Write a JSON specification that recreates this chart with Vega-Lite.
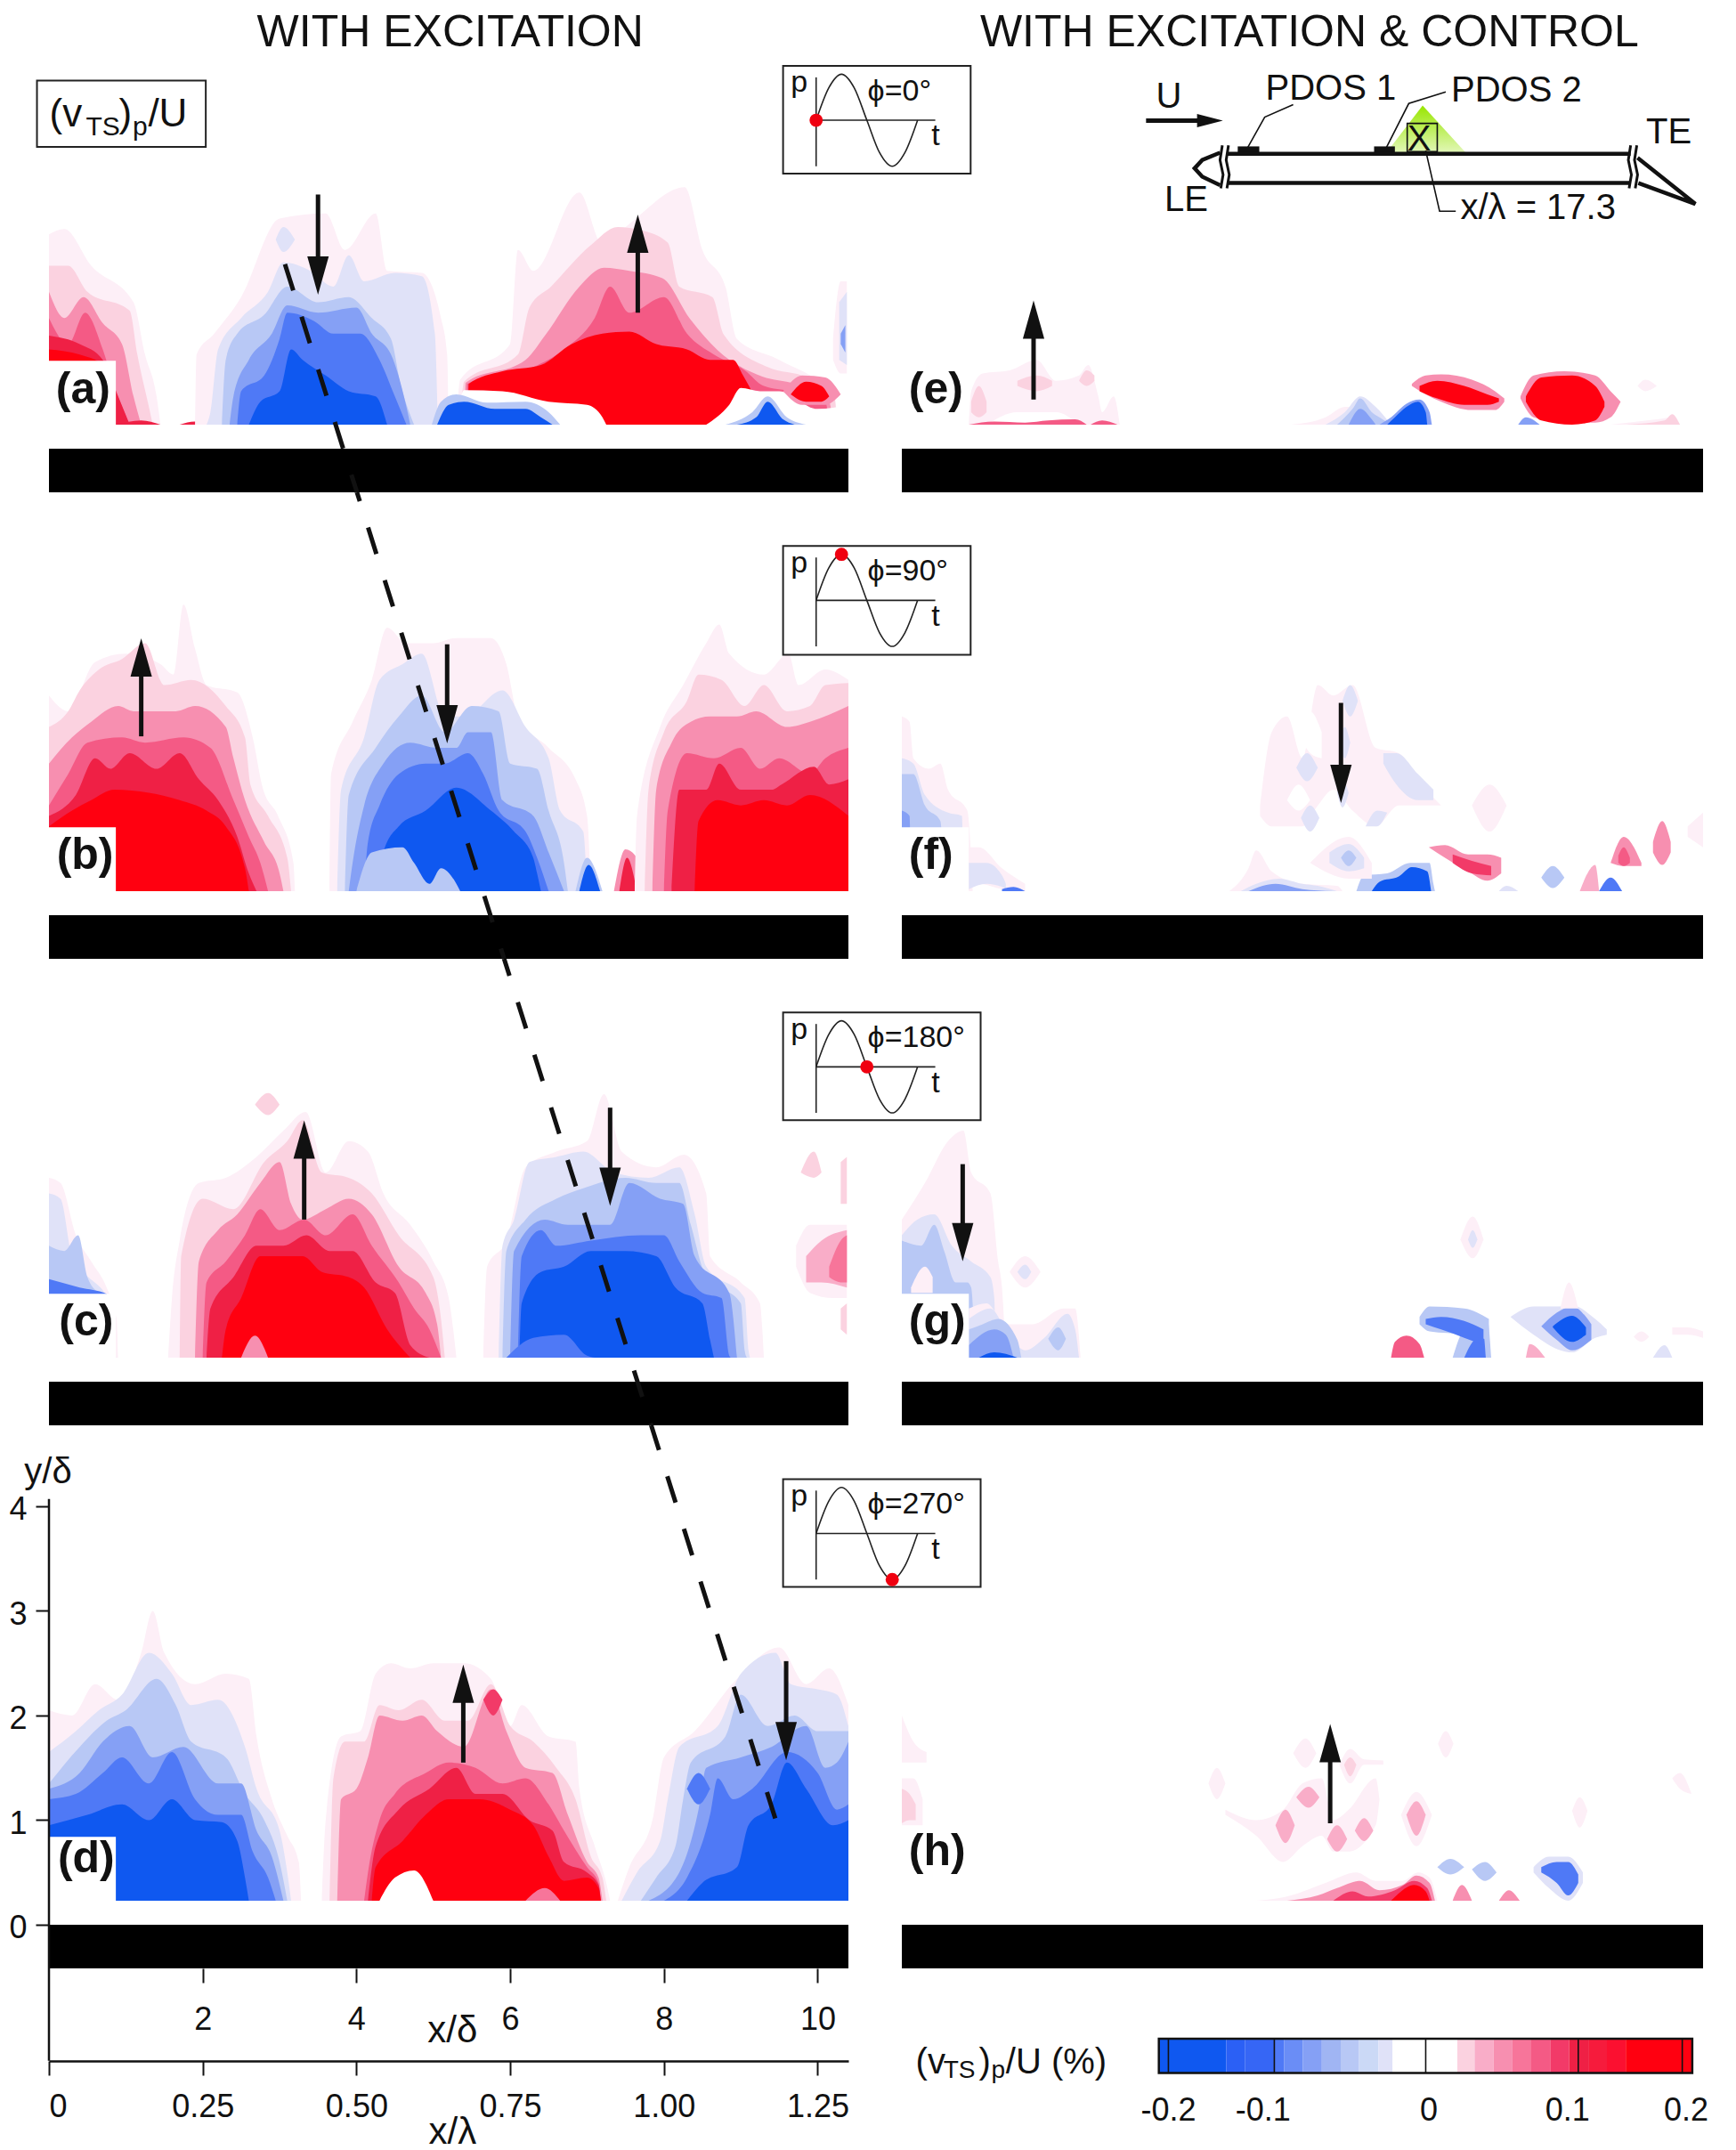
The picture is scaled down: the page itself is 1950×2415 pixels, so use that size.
{"$schema":"https://vega.github.io/schema/vega-lite/v6.json","background":"white","padding":{"left":9,"top":1,"right":0,"bottom":0},"bounds":"flush","columns":2,"align":"each","spacing":{"row":0,"column":60},"resolve":{"scale":{"color":"shared"}},
"config":{"view":{"stroke":null},"legend":{"disable":true},"area":{"interpolate":"monotone","opacity":1},"text":{"font":"Liberation Sans","baseline":"alphabetic","align":"left","color":"#111"},"range":{"category":["#0f58f0","#2b60f5","#3666f5","#4f79f6","#6a8df6","#85a0f5","#a0b5f3","#b8c8f5","#cbd9f6","#e0e2f8","#ffffff","#fdeff7","#fbd2e0","#f9adc8","#f78fb0","#f7759a","#f45a85","#f23a68","#ef2045","#f61b3c","#fb1030","#ff0010"]}},
"datasets":{
"bar":[{"x":0,"x2":10.4,"y":0,"y2":-0.417}],
"box":[{"x":0,"x2":0.87,"y":0.84,"y2":0.2}],
"a":[
{"l":0.5,"x":0,"y":2.05},{"l":0.5,"x":0.2,"y":2.1},{"l":0.5,"x":0.55,"y":1.75},{"l":0.5,"x":1.1,"y":1.4},{"l":0.5,"x":1.25,"y":0.9},{"l":0.5,"x":1.4,"y":0.5},{"l":0.5,"x":1.45,"y":0.23},
{"l":1,"x":0,"y":1.75},{"l":1,"x":0.25,"y":1.75},{"l":1,"x":0.5,"y":1.5},{"l":1,"x":1.05,"y":1.32},{"l":1,"x":1.15,"y":0.9},{"l":1,"x":1.3,"y":0.4},{"l":1,"x":1.35,"y":0.23},
{"l":3,"x":0,"y":1.5},{"l":3,"x":0.2,"y":1.25},{"l":3,"x":0.45,"y":1.45},{"l":3,"x":0.7,"y":1.2},{"l":3,"x":0.95,"y":1.0},{"l":3,"x":1.1,"y":0.5},{"l":3,"x":1.2,"y":0.23},
{"l":5,"x":0,"y":1.25},{"l":5,"x":0.25,"y":1.0},{"l":5,"x":0.47,"y":1.3},{"l":5,"x":0.7,"y":0.95},{"l":5,"x":0.85,"y":0.6},{"l":5,"x":1.05,"y":0.23},
{"l":7,"x":0,"y":1.08},{"l":7,"x":0.4,"y":1.0},{"l":7,"x":0.7,"y":0.85},{"l":7,"x":0.9,"y":0.5},{"l":7,"x":1.05,"y":0.23},
{"l":10,"x":0,"y":0.95},{"l":10,"x":0.4,"y":0.9},{"l":10,"x":0.7,"y":0.8},{"l":10,"x":0.85,"y":0.23},
{"l":7,"g":8,"x":0.87,"y":0.23},{"l":7,"g":8,"x":1.2,"y":0.27},{"l":7,"g":8,"x":1.45,"y":0.23},{"l":7,"g":9,"x":1.7,"y":0.23},{"l":7,"g":9,"x":1.9,"y":0.26},{"l":7,"g":9,"x":2.1,"y":0.23},
{"l":0.5,"g":2,"x":1.9,"y":0.23},{"l":0.5,"g":2,"x":1.92,"y":0.9},{"l":0.5,"g":2,"x":2.15,"y":1.1},{"l":0.5,"g":2,"x":2.5,"y":1.45},{"l":0.5,"g":2,"x":3.0,"y":2.2},{"l":0.5,"g":2,"x":3.6,"y":2.25},{"l":0.5,"g":2,"x":3.85,"y":1.9},{"l":0.5,"g":2,"x":4.25,"y":2.25},{"l":0.5,"g":2,"x":4.4,"y":1.7},{"l":0.5,"g":2,"x":4.85,"y":1.68},{"l":0.5,"g":2,"x":5.1,"y":1.25},{"l":0.5,"g":2,"x":5.18,"y":0.9},{"l":0.5,"g":2,"x":5.2,"y":0.23},
{"l":-1,"x":2.05,"y":0.23},{"l":-1,"x":2.1,"y":0.35},{"l":-1,"x":2.2,"y":0.95},{"l":-1,"x":2.5,"y":1.25},{"l":-1,"x":2.85,"y":1.5},{"l":-1,"x":3.05,"y":1.78},{"l":-1,"x":3.4,"y":1.7},{"l":-1,"x":3.7,"y":1.55},{"l":-1,"x":3.9,"y":1.85},{"l":-1,"x":4.1,"y":1.6},{"l":-1,"x":4.5,"y":1.68},{"l":-1,"x":4.85,"y":1.65},{"l":-1,"x":5.02,"y":1.1},{"l":-1,"x":5.06,"y":0.23},
{"l":-3,"x":2.25,"y":0.23},{"l":-3,"x":2.3,"y":0.85},{"l":-3,"x":2.45,"y":1.1},{"l":-3,"x":2.8,"y":1.28},{"l":-3,"x":3.1,"y":1.55},{"l":-3,"x":3.5,"y":1.4},{"l":-3,"x":3.9,"y":1.45},{"l":-3,"x":4.2,"y":1.25},{"l":-3,"x":4.45,"y":1.05},{"l":-3,"x":4.58,"y":0.6},{"l":-3,"x":4.75,"y":0.23},
{"l":-5,"x":2.35,"y":0.23},{"l":-5,"x":2.4,"y":0.5},{"l":-5,"x":2.6,"y":0.85},{"l":-5,"x":2.9,"y":1.1},{"l":-5,"x":3.1,"y":1.37},{"l":-5,"x":3.5,"y":1.3},{"l":-5,"x":4.0,"y":1.35},{"l":-5,"x":4.2,"y":1.1},{"l":-5,"x":4.45,"y":0.9},{"l":-5,"x":4.65,"y":0.4},{"l":-5,"x":4.7,"y":0.23},
{"l":-7,"x":2.45,"y":0.23},{"l":-7,"x":2.5,"y":0.55},{"l":-7,"x":2.8,"y":0.7},{"l":-7,"x":3.0,"y":1.05},{"l":-7,"x":3.1,"y":1.3},{"l":-7,"x":3.45,"y":1.22},{"l":-7,"x":3.7,"y":1.1},{"l":-7,"x":4.05,"y":1.1},{"l":-7,"x":4.3,"y":0.85},{"l":-7,"x":4.5,"y":0.5},{"l":-7,"x":4.65,"y":0.23},
{"l":-10,"x":2.6,"y":0.23},{"l":-10,"x":2.75,"y":0.45},{"l":-10,"x":3.0,"y":0.55},{"l":-10,"x":3.15,"y":0.95},{"l":-10,"x":3.3,"y":0.85},{"l":-10,"x":3.6,"y":0.7},{"l":-10,"x":3.9,"y":0.55},{"l":-10,"x":4.25,"y":0.5},{"l":-10,"x":4.4,"y":0.23},
{"l":0.5,"g":3,"x":5.3,"y":0.23},{"l":0.5,"g":3,"x":5.35,"y":0.66},{"l":0.5,"g":3,"x":6.0,"y":1.0},{"l":0.5,"g":3,"x":6.1,"y":1.9},{"l":0.5,"g":3,"x":6.3,"y":1.7},{"l":0.5,"g":3,"x":6.9,"y":2.45},{"l":0.5,"g":3,"x":7.2,"y":1.95},{"l":0.5,"g":3,"x":7.55,"y":2.15},{"l":0.5,"g":3,"x":8.27,"y":2.5},{"l":0.5,"g":3,"x":8.5,"y":1.9},{"l":0.5,"g":3,"x":8.8,"y":1.55},{"l":0.5,"g":3,"x":8.95,"y":1.05},{"l":0.5,"g":3,"x":9.5,"y":0.85},{"l":0.5,"g":3,"x":10.2,"y":0.5},{"l":0.5,"g":3,"x":10.28,"y":0.23},
{"l":1,"g":3,"x":5.35,"y":0.23},{"l":1,"g":3,"x":5.4,"y":0.64},{"l":1,"g":3,"x":6.1,"y":0.9},{"l":1,"g":3,"x":6.25,"y":1.35},{"l":1,"g":3,"x":6.53,"y":1.55},{"l":1,"g":3,"x":7.04,"y":1.94},{"l":1,"g":3,"x":7.4,"y":2.12},{"l":1,"g":3,"x":7.7,"y":2.09},{"l":1,"g":3,"x":8.05,"y":1.97},{"l":1,"g":3,"x":8.2,"y":1.55},{"l":1,"g":3,"x":8.63,"y":1.45},{"l":1,"g":3,"x":8.78,"y":1.09},{"l":1,"g":3,"x":9.35,"y":0.78},{"l":1,"g":3,"x":9.86,"y":0.68},{"l":1,"g":3,"x":10.22,"y":0.5},{"l":1,"g":3,"x":10.25,"y":0.23},
{"l":3,"g":3,"x":5.4,"y":0.23},{"l":3,"g":3,"x":5.42,"y":0.63},{"l":3,"g":3,"x":6.2,"y":0.85},{"l":3,"g":3,"x":6.46,"y":1.09},{"l":3,"g":3,"x":6.9,"y":1.55},{"l":3,"g":3,"x":7.22,"y":1.73},{"l":3,"g":3,"x":7.55,"y":1.7},{"l":3,"g":3,"x":7.98,"y":1.63},{"l":3,"g":3,"x":8.34,"y":1.24},{"l":3,"g":3,"x":8.7,"y":0.94},{"l":3,"g":3,"x":9.28,"y":0.69},{"l":3,"g":3,"x":9.7,"y":0.62},{"l":3,"g":3,"x":10.15,"y":0.45},{"l":3,"g":3,"x":10.2,"y":0.23},
{"l":5,"g":3,"x":5.43,"y":0.23},{"l":5,"g":3,"x":5.44,"y":0.62},{"l":5,"g":3,"x":6.3,"y":0.78},{"l":5,"g":3,"x":6.7,"y":0.95},{"l":5,"g":3,"x":7.1,"y":1.25},{"l":5,"g":3,"x":7.3,"y":1.55},{"l":5,"g":3,"x":7.55,"y":1.3},{"l":5,"g":3,"x":8.0,"y":1.45},{"l":5,"g":3,"x":8.3,"y":1.1},{"l":5,"g":3,"x":8.65,"y":0.9},{"l":5,"g":3,"x":9.05,"y":0.75},{"l":5,"g":3,"x":9.3,"y":0.6},{"l":5,"g":3,"x":9.65,"y":0.55},{"l":5,"g":3,"x":10.1,"y":0.45},{"l":5,"g":3,"x":10.15,"y":0.23},
{"l":10,"g":3,"x":5.45,"y":0.23},{"l":10,"g":3,"x":5.46,"y":0.62},{"l":10,"g":3,"x":5.9,"y":0.74},{"l":10,"g":3,"x":6.4,"y":0.8},{"l":10,"g":3,"x":6.8,"y":1.0},{"l":10,"g":3,"x":7.2,"y":1.1},{"l":10,"g":3,"x":7.55,"y":1.12},{"l":10,"g":3,"x":7.9,"y":1.0},{"l":10,"g":3,"x":8.3,"y":0.95},{"l":10,"g":3,"x":8.6,"y":0.85},{"l":10,"g":3,"x":8.9,"y":0.85},{"l":10,"g":3,"x":9.03,"y":0.7},{"l":10,"g":3,"x":9.2,"y":0.45},{"l":10,"g":3,"x":9.3,"y":0.23},
{"l":0,"g":5,"x":5.3,"y":0.23},{"l":0,"g":5,"x":5.4,"y":0.56},{"l":0,"g":5,"x":5.9,"y":0.55},{"l":0,"g":5,"x":6.5,"y":0.45},{"l":0,"g":5,"x":7.0,"y":0.42},{"l":0,"g":5,"x":7.2,"y":0.3},{"l":0,"g":5,"x":7.25,"y":0.23},
{"l":0,"g":6,"x":8.55,"y":0.23},{"l":0,"g":6,"x":8.85,"y":0.42},{"l":0,"g":6,"x":9.0,"y":0.58},{"l":0,"g":6,"x":9.25,"y":0.55},{"l":0,"g":6,"x":9.5,"y":0.55},{"l":0,"g":6,"x":10.0,"y":0.38},{"l":0,"g":6,"x":10.4,"y":0.42},
{"l":-3,"g":7,"x":4.98,"y":0.23},{"l":-3,"g":7,"x":5.1,"y":0.45},{"l":-3,"g":7,"x":5.3,"y":0.52},{"l":-3,"g":7,"x":5.7,"y":0.44},{"l":-3,"g":7,"x":6.2,"y":0.45},{"l":-3,"g":7,"x":6.5,"y":0.35},{"l":-3,"g":7,"x":6.65,"y":0.23},
{"l":-10,"g":7,"x":5.05,"y":0.23},{"l":-10,"g":7,"x":5.2,"y":0.42},{"l":-10,"g":7,"x":5.4,"y":0.45},{"l":-10,"g":7,"x":5.8,"y":0.38},{"l":-10,"g":7,"x":6.2,"y":0.38},{"l":-10,"g":7,"x":6.4,"y":0.3},{"l":-10,"g":7,"x":6.55,"y":0.23},
{"l":-3,"g":8,"x":8.8,"y":0.23},{"l":-3,"g":8,"x":9.15,"y":0.35},{"l":-3,"g":8,"x":9.35,"y":0.5},{"l":-3,"g":8,"x":9.6,"y":0.3},{"l":-3,"g":8,"x":9.85,"y":0.23},
{"l":-10,"g":8,"x":8.95,"y":0.23},{"l":-10,"g":8,"x":9.2,"y":0.3},{"l":-10,"g":8,"x":9.35,"y":0.45},{"l":-10,"g":8,"x":9.55,"y":0.28},{"l":-10,"g":8,"x":9.7,"y":0.23}],
"a2":[
{"l":3,"x":9.55,"y":0.55,"b":0.55},{"l":3,"x":9.8,"y":0.7,"b":0.42},{"l":3,"x":10.1,"y":0.68,"b":0.42},{"l":3,"x":10.3,"y":0.52,"b":0.52},
{"l":10,"x":9.65,"y":0.52,"b":0.52},{"l":10,"x":9.85,"y":0.64,"b":0.45},{"l":10,"x":10.05,"y":0.6,"b":0.45},{"l":10,"x":10.15,"y":0.5,"b":0.5},
{"l":0.5,"x":10.2,"y":1.05,"b":0.85},{"l":0.5,"x":10.3,"y":1.6,"b":0.72},{"l":0.5,"x":10.38,"y":1.6,"b":0.72},
{"l":-1,"x":10.28,"y":1.4,"b":0.85},{"l":-1,"x":10.38,"y":1.5,"b":0.8},
{"l":-5,"x":10.3,"y":1.1,"b":1.0},{"l":-5,"x":10.36,"y":1.18,"b":0.92},
{"l":-1,"g":2,"x":2.95,"y":2.0,"b":2.0},{"l":-1,"g":2,"x":3.05,"y":2.12,"b":1.88},{"l":-1,"g":2,"x":3.2,"y":2.0,"b":2.0}],
"b":[
{"l":0.5,"x":0,"y":2.1},{"l":0.5,"x":0.25,"y":1.95},{"l":0.5,"x":0.6,"y":2.42},{"l":0.5,"x":1.0,"y":2.5},{"l":0.5,"x":1.45,"y":2.4},{"l":0.5,"x":1.62,"y":2.3},{"l":0.5,"x":1.75,"y":2.97},{"l":0.5,"x":1.9,"y":2.55},{"l":0.5,"x":2.05,"y":2.2},{"l":0.5,"x":2.45,"y":2.13},{"l":0.5,"x":2.65,"y":1.7},{"l":0.5,"x":2.78,"y":1.22},{"l":0.5,"x":2.98,"y":0.95},{"l":0.5,"x":3.18,"y":0.5},{"l":0.5,"x":3.2,"y":0.23},
{"l":1,"x":0,"y":1.8},{"l":1,"x":0.25,"y":1.95},{"l":1,"x":0.4,"y":2.15},{"l":1,"x":0.65,"y":2.35},{"l":1,"x":0.95,"y":2.45},{"l":1,"x":1.25,"y":2.6},{"l":1,"x":1.5,"y":2.2},{"l":1,"x":1.85,"y":2.25},{"l":1,"x":2.3,"y":2.0},{"l":1,"x":2.55,"y":1.7},{"l":1,"x":2.62,"y":1.25},{"l":1,"x":2.85,"y":0.95},{"l":1,"x":3.1,"y":0.55},{"l":1,"x":3.15,"y":0.23},
{"l":3,"x":0,"y":1.45},{"l":3,"x":0.3,"y":1.7},{"l":3,"x":0.55,"y":1.85},{"l":3,"x":0.9,"y":2.0},{"l":3,"x":1.1,"y":1.95},{"l":3,"x":1.65,"y":1.95},{"l":3,"x":1.9,"y":2.0},{"l":3,"x":2.3,"y":1.8},{"l":3,"x":2.4,"y":1.5},{"l":3,"x":2.55,"y":1.1},{"l":3,"x":2.8,"y":0.7},{"l":3,"x":3.0,"y":0.4},{"l":3,"x":3.05,"y":0.23},
{"l":5,"x":0,"y":1.05},{"l":5,"x":0.25,"y":1.35},{"l":5,"x":0.5,"y":1.65},{"l":5,"x":0.95,"y":1.7},{"l":5,"x":1.25,"y":1.65},{"l":5,"x":1.75,"y":1.7},{"l":5,"x":2.1,"y":1.6},{"l":5,"x":2.4,"y":1.1},{"l":5,"x":2.6,"y":0.75},{"l":5,"x":2.75,"y":0.5},{"l":5,"x":2.85,"y":0.23},
{"l":7,"x":0,"y":0.95},{"l":7,"x":0.35,"y":1.15},{"l":7,"x":0.6,"y":1.5},{"l":7,"x":0.8,"y":1.4},{"l":7,"x":1.05,"y":1.55},{"l":7,"x":1.4,"y":1.4},{"l":7,"x":1.7,"y":1.55},{"l":7,"x":1.95,"y":1.3},{"l":7,"x":2.2,"y":1.1},{"l":7,"x":2.45,"y":0.75},{"l":7,"x":2.6,"y":0.4},{"l":7,"x":2.7,"y":0.23},
{"l":10,"x":0,"y":0.85},{"l":10,"x":0.3,"y":1.0},{"l":10,"x":0.55,"y":1.1},{"l":10,"x":0.85,"y":1.2},{"l":10,"x":1.3,"y":1.17},{"l":10,"x":1.7,"y":1.1},{"l":10,"x":2.05,"y":1.0},{"l":10,"x":2.3,"y":0.85},{"l":10,"x":2.55,"y":0.45},{"l":10,"x":2.6,"y":0.23},
{"l":0.5,"g":2,"x":3.65,"y":0.23},{"l":0.5,"g":2,"x":3.67,"y":1.35},{"l":0.5,"g":2,"x":3.95,"y":1.85},{"l":0.5,"g":2,"x":4.2,"y":2.25},{"l":0.5,"g":2,"x":4.4,"y":2.75},{"l":0.5,"g":2,"x":4.65,"y":2.6},{"l":0.5,"g":2,"x":5.0,"y":2.6},{"l":0.5,"g":2,"x":5.3,"y":2.65},{"l":0.5,"g":2,"x":5.75,"y":2.65},{"l":0.5,"g":2,"x":5.95,"y":2.4},{"l":0.5,"g":2,"x":6.1,"y":1.9},{"l":0.5,"g":2,"x":6.5,"y":1.6},{"l":0.5,"g":2,"x":6.85,"y":1.3},{"l":0.5,"g":2,"x":7.0,"y":0.95},{"l":0.5,"g":2,"x":7.05,"y":0.23},
{"l":-1,"x":3.75,"y":0.23},{"l":-1,"x":3.8,"y":1.2},{"l":-1,"x":4.1,"y":1.7},{"l":-1,"x":4.3,"y":2.25},{"l":-1,"x":4.6,"y":2.4},{"l":-1,"x":4.85,"y":2.5},{"l":-1,"x":5.15,"y":1.9},{"l":-1,"x":5.4,"y":1.9},{"l":-1,"x":5.9,"y":2.15},{"l":-1,"x":6.2,"y":1.8},{"l":-1,"x":6.5,"y":1.5},{"l":-1,"x":6.65,"y":1.0},{"l":-1,"x":6.95,"y":0.8},{"l":-1,"x":7.0,"y":0.23},
{"l":-3,"x":3.85,"y":0.23},{"l":-3,"x":3.9,"y":1.15},{"l":-3,"x":4.25,"y":1.6},{"l":-3,"x":4.55,"y":1.9},{"l":-3,"x":4.85,"y":2.1},{"l":-3,"x":5.15,"y":1.75},{"l":-3,"x":5.5,"y":2.0},{"l":-3,"x":5.85,"y":1.95},{"l":-3,"x":6.0,"y":1.45},{"l":-3,"x":6.35,"y":1.4},{"l":-3,"x":6.5,"y":1.0},{"l":-3,"x":6.7,"y":0.5},{"l":-3,"x":6.75,"y":0.23},
{"l":-5,"x":3.9,"y":0.23},{"l":-5,"x":3.95,"y":0.5},{"l":-5,"x":4.1,"y":1.05},{"l":-5,"x":4.35,"y":1.45},{"l":-5,"x":4.7,"y":1.65},{"l":-5,"x":5.05,"y":1.6},{"l":-5,"x":5.3,"y":1.6},{"l":-5,"x":5.45,"y":1.75},{"l":-5,"x":5.75,"y":1.75},{"l":-5,"x":5.9,"y":1.1},{"l":-5,"x":6.3,"y":0.95},{"l":-5,"x":6.5,"y":0.6},{"l":-5,"x":6.7,"y":0.23},
{"l":-7,"x":4.1,"y":0.23},{"l":-7,"x":4.15,"y":0.7},{"l":-7,"x":4.3,"y":1.05},{"l":-7,"x":4.55,"y":1.35},{"l":-7,"x":4.9,"y":1.45},{"l":-7,"x":5.15,"y":1.45},{"l":-7,"x":5.45,"y":1.55},{"l":-7,"x":5.65,"y":1.35},{"l":-7,"x":5.85,"y":1.0},{"l":-7,"x":6.2,"y":0.8},{"l":-7,"x":6.35,"y":0.55},{"l":-7,"x":6.5,"y":0.23},
{"l":-10,"x":4.3,"y":0.23},{"l":-10,"x":4.35,"y":0.6},{"l":-10,"x":4.55,"y":0.85},{"l":-10,"x":4.9,"y":1.0},{"l":-10,"x":5.3,"y":1.22},{"l":-10,"x":5.75,"y":1.0},{"l":-10,"x":6.05,"y":0.8},{"l":-10,"x":6.3,"y":0.55},{"l":-10,"x":6.35,"y":0.4},{"l":-10,"x":6.4,"y":0.23},
{"l":-3,"g":3,"x":4.0,"y":0.23},{"l":-3,"g":3,"x":4.2,"y":0.6},{"l":-3,"g":3,"x":4.6,"y":0.65},{"l":-3,"g":3,"x":4.75,"y":0.5},{"l":-3,"g":3,"x":4.95,"y":0.3},{"l":-3,"g":3,"x":5.1,"y":0.45},{"l":-3,"g":3,"x":5.3,"y":0.3},{"l":-3,"g":3,"x":5.35,"y":0.23},
{"l":-3,"g":4,"x":6.85,"y":0.23},{"l":-3,"g":4,"x":7.0,"y":0.55},{"l":-3,"g":4,"x":7.2,"y":0.23},{"l":-10,"g":4,"x":6.9,"y":0.23},{"l":-10,"g":4,"x":7.02,"y":0.48},{"l":-10,"g":4,"x":7.17,"y":0.23},
{"l":3,"g":5,"x":7.35,"y":0.23},{"l":3,"g":5,"x":7.5,"y":0.63},{"l":3,"g":5,"x":7.75,"y":0.4},{"l":3,"g":5,"x":7.78,"y":0.23},{"l":7,"g":5,"x":7.42,"y":0.23},{"l":7,"g":5,"x":7.52,"y":0.55},{"l":7,"g":5,"x":7.65,"y":0.23},
{"l":0.5,"g":6,"x":7.62,"y":0.23},{"l":0.5,"g":6,"x":7.65,"y":0.95},{"l":0.5,"g":6,"x":7.95,"y":1.8},{"l":0.5,"g":6,"x":8.25,"y":2.2},{"l":0.5,"g":6,"x":8.55,"y":2.6},{"l":0.5,"g":6,"x":8.72,"y":2.78},{"l":0.5,"g":6,"x":8.85,"y":2.5},{"l":0.5,"g":6,"x":9.3,"y":2.3},{"l":0.5,"g":6,"x":9.62,"y":2.5},{"l":0.5,"g":6,"x":9.75,"y":2.2},{"l":0.5,"g":6,"x":10.1,"y":2.35},{"l":0.5,"g":6,"x":10.4,"y":2.25},
{"l":1,"g":6,"x":7.75,"y":0.23},{"l":1,"g":6,"x":7.8,"y":1.2},{"l":1,"g":6,"x":8.0,"y":1.75},{"l":1,"g":6,"x":8.3,"y":2.05},{"l":1,"g":6,"x":8.45,"y":2.3},{"l":1,"g":6,"x":8.75,"y":2.25},{"l":1,"g":6,"x":9.05,"y":2.0},{"l":1,"g":6,"x":9.3,"y":2.2},{"l":1,"g":6,"x":9.6,"y":1.95},{"l":1,"g":6,"x":9.9,"y":2.0},{"l":1,"g":6,"x":10.1,"y":2.2},{"l":1,"g":6,"x":10.4,"y":2.22},
{"l":3,"g":6,"x":7.85,"y":0.23},{"l":3,"g":6,"x":7.9,"y":1.2},{"l":3,"g":6,"x":8.1,"y":1.65},{"l":3,"g":6,"x":8.35,"y":1.85},{"l":3,"g":6,"x":8.6,"y":1.9},{"l":3,"g":6,"x":8.95,"y":1.9},{"l":3,"g":6,"x":9.2,"y":1.95},{"l":3,"g":6,"x":9.6,"y":1.8},{"l":3,"g":6,"x":9.9,"y":1.85},{"l":3,"g":6,"x":10.4,"y":2.0},
{"l":5,"g":6,"x":8.0,"y":0.23},{"l":5,"g":6,"x":8.05,"y":1.0},{"l":5,"g":6,"x":8.3,"y":1.55},{"l":5,"g":6,"x":8.65,"y":1.5},{"l":5,"g":6,"x":9.0,"y":1.6},{"l":5,"g":6,"x":9.25,"y":1.4},{"l":5,"g":6,"x":9.5,"y":1.5},{"l":5,"g":6,"x":9.9,"y":1.35},{"l":5,"g":6,"x":10.1,"y":1.5},{"l":5,"g":6,"x":10.4,"y":1.6},
{"l":7,"g":6,"x":8.1,"y":0.23},{"l":7,"g":6,"x":8.2,"y":1.2},{"l":7,"g":6,"x":8.55,"y":1.2},{"l":7,"g":6,"x":8.72,"y":1.45},{"l":7,"g":6,"x":9.0,"y":1.2},{"l":7,"g":6,"x":9.4,"y":1.2},{"l":7,"g":6,"x":9.53,"y":1.25},{"l":7,"g":6,"x":9.95,"y":1.42},{"l":7,"g":6,"x":10.15,"y":1.25},{"l":7,"g":6,"x":10.4,"y":1.3},
{"l":10,"g":6,"x":8.4,"y":0.23},{"l":10,"g":6,"x":8.45,"y":0.9},{"l":10,"g":6,"x":8.7,"y":1.1},{"l":10,"g":6,"x":9.0,"y":1.05},{"l":10,"g":6,"x":9.3,"y":1.1},{"l":10,"g":6,"x":9.6,"y":1.05},{"l":10,"g":6,"x":9.9,"y":1.15},{"l":10,"g":6,"x":10.4,"y":0.95}],
"c":[
{"l":0.5,"x":0,"y":1.95},{"l":0.5,"x":0.15,"y":1.9},{"l":0.5,"x":0.35,"y":1.4},{"l":0.5,"x":0.55,"y":1.15},{"l":0.5,"x":0.75,"y":0.9},{"l":0.5,"x":0.88,"y":0.6},{"l":0.5,"x":0.9,"y":0.23},
{"l":-1,"x":0,"y":1.8},{"l":-1,"x":0.15,"y":1.75},{"l":-1,"x":0.3,"y":1.2},{"l":-1,"x":0.45,"y":1.05},{"l":-1,"x":0.8,"y":0.75},{"l":-1,"x":0.85,"y":0.23},
{"l":-3,"x":0,"y":1.3},{"l":-3,"x":0.2,"y":1.25},{"l":-3,"x":0.38,"y":1.4},{"l":-3,"x":0.5,"y":1.0},{"l":-3,"x":0.8,"y":0.7},{"l":-3,"x":0.87,"y":0.23},
{"l":-7,"x":0,"y":0.98},{"l":-7,"x":0.4,"y":0.9},{"l":-7,"x":0.75,"y":0.84},{"l":-7,"x":0.85,"y":0.23},
{"l":0.5,"g":2,"x":1.55,"y":0.23},{"l":0.5,"g":2,"x":1.6,"y":0.8},{"l":0.5,"g":2,"x":1.7,"y":1.35},{"l":0.5,"g":2,"x":1.95,"y":1.9},{"l":0.5,"g":2,"x":2.3,"y":1.95},{"l":0.5,"g":2,"x":2.7,"y":2.15},{"l":0.5,"g":2,"x":3.05,"y":2.4},{"l":0.5,"g":2,"x":3.34,"y":2.58},{"l":0.5,"g":2,"x":3.6,"y":2.0},{"l":0.5,"g":2,"x":3.9,"y":2.3},{"l":0.5,"g":2,"x":4.15,"y":2.2},{"l":0.5,"g":2,"x":4.35,"y":1.8},{"l":0.5,"g":2,"x":4.7,"y":1.5},{"l":0.5,"g":2,"x":5.0,"y":1.15},{"l":0.5,"g":2,"x":5.2,"y":0.8},{"l":0.5,"g":2,"x":5.3,"y":0.23},
{"l":1,"x":1.7,"y":0.23},{"l":1,"x":1.72,"y":1.2},{"l":1,"x":2.0,"y":1.75},{"l":1,"x":2.4,"y":1.65},{"l":1,"x":2.8,"y":2.1},{"l":1,"x":3.1,"y":2.3},{"l":1,"x":3.3,"y":2.5},{"l":1,"x":3.55,"y":2.0},{"l":1,"x":3.9,"y":1.95},{"l":1,"x":4.2,"y":1.8},{"l":1,"x":4.55,"y":1.4},{"l":1,"x":5.0,"y":1.0},{"l":1,"x":5.1,"y":0.6},{"l":1,"x":5.15,"y":0.23},
{"l":3,"x":1.9,"y":0.23},{"l":3,"x":1.95,"y":1.15},{"l":3,"x":2.2,"y":1.45},{"l":3,"x":2.45,"y":1.6},{"l":3,"x":2.75,"y":1.9},{"l":3,"x":3.0,"y":2.1},{"l":3,"x":3.15,"y":1.7},{"l":3,"x":3.3,"y":1.55},{"l":3,"x":3.6,"y":1.65},{"l":3,"x":3.9,"y":1.75},{"l":3,"x":4.2,"y":1.6},{"l":3,"x":4.55,"y":1.1},{"l":3,"x":4.9,"y":0.85},{"l":3,"x":5.05,"y":0.55},{"l":3,"x":5.1,"y":0.23},
{"l":5,"x":2.0,"y":0.23},{"l":5,"x":2.05,"y":0.95},{"l":5,"x":2.3,"y":1.15},{"l":5,"x":2.55,"y":1.4},{"l":5,"x":2.75,"y":1.65},{"l":5,"x":3.0,"y":1.45},{"l":5,"x":3.32,"y":1.55},{"l":5,"x":3.6,"y":1.4},{"l":5,"x":3.95,"y":1.6},{"l":5,"x":4.2,"y":1.3},{"l":5,"x":4.55,"y":0.95},{"l":5,"x":4.75,"y":0.7},{"l":5,"x":4.95,"y":0.5},{"l":5,"x":5.1,"y":0.23},
{"l":7,"x":2.05,"y":0.23},{"l":7,"x":2.1,"y":0.7},{"l":7,"x":2.4,"y":1.0},{"l":7,"x":2.7,"y":1.3},{"l":7,"x":3.05,"y":1.3},{"l":7,"x":3.35,"y":1.4},{"l":7,"x":3.65,"y":1.25},{"l":7,"x":3.95,"y":1.25},{"l":7,"x":4.25,"y":0.95},{"l":7,"x":4.5,"y":0.85},{"l":7,"x":4.7,"y":0.35},{"l":7,"x":4.95,"y":0.23},
{"l":10,"x":2.25,"y":0.23},{"l":10,"x":2.3,"y":0.5},{"l":10,"x":2.5,"y":0.8},{"l":10,"x":2.75,"y":1.2},{"l":10,"x":3.05,"y":1.2},{"l":10,"x":3.3,"y":1.2},{"l":10,"x":3.55,"y":1.05},{"l":10,"x":3.9,"y":1.0},{"l":10,"x":4.1,"y":0.9},{"l":10,"x":4.4,"y":0.5},{"l":10,"x":4.7,"y":0.23},
{"l":3,"g":2,"x":2.5,"y":0.23},{"l":3,"g":2,"x":2.68,"y":0.44},{"l":3,"g":2,"x":2.85,"y":0.23},
{"l":0.5,"g":3,"x":5.65,"y":0.23},{"l":0.5,"g":3,"x":5.7,"y":1.1},{"l":0.5,"g":3,"x":5.95,"y":1.35},{"l":0.5,"g":3,"x":6.2,"y":2.05},{"l":0.5,"g":3,"x":6.6,"y":2.2},{"l":0.5,"g":3,"x":7.0,"y":2.3},{"l":0.5,"g":3,"x":7.22,"y":2.75},{"l":0.5,"g":3,"x":7.45,"y":2.2},{"l":0.5,"g":3,"x":7.9,"y":2.05},{"l":0.5,"g":3,"x":8.26,"y":2.17},{"l":0.5,"g":3,"x":8.55,"y":1.8},{"l":0.5,"g":3,"x":8.6,"y":1.2},{"l":0.5,"g":3,"x":9.0,"y":0.95},{"l":0.5,"g":3,"x":9.25,"y":0.75},{"l":0.5,"g":3,"x":9.28,"y":0.5},{"l":0.5,"g":3,"x":9.3,"y":0.23},
{"l":-1,"g":3,"x":5.85,"y":0.23},{"l":-1,"g":3,"x":5.9,"y":1.3},{"l":-1,"g":3,"x":6.05,"y":1.55},{"l":-1,"g":3,"x":6.25,"y":2.1},{"l":-1,"g":3,"x":6.6,"y":2.15},{"l":-1,"g":3,"x":6.95,"y":2.2},{"l":-1,"g":3,"x":7.35,"y":2.0},{"l":-1,"g":3,"x":7.8,"y":1.95},{"l":-1,"g":3,"x":8.2,"y":2.05},{"l":-1,"g":3,"x":8.4,"y":1.6},{"l":-1,"g":3,"x":8.55,"y":1.1},{"l":-1,"g":3,"x":9.05,"y":0.8},{"l":-1,"g":3,"x":9.1,"y":0.3},{"l":-1,"g":3,"x":9.12,"y":0.23},
{"l":-3,"g":3,"x":5.9,"y":0.23},{"l":-3,"g":3,"x":5.95,"y":1.25},{"l":-3,"g":3,"x":6.2,"y":1.55},{"l":-3,"g":3,"x":6.6,"y":1.75},{"l":-3,"g":3,"x":6.95,"y":1.85},{"l":-3,"g":3,"x":7.5,"y":1.95},{"l":-3,"g":3,"x":7.9,"y":1.9},{"l":-3,"g":3,"x":8.2,"y":1.9},{"l":-3,"g":3,"x":8.35,"y":1.5},{"l":-3,"g":3,"x":8.55,"y":1.0},{"l":-3,"g":3,"x":9.0,"y":0.75},{"l":-3,"g":3,"x":9.05,"y":0.3},{"l":-3,"g":3,"x":9.08,"y":0.23},
{"l":-5,"x":6.0,"y":0.23},{"l":-5,"x":6.05,"y":1.25},{"l":-5,"x":6.45,"y":1.55},{"l":-5,"x":6.75,"y":1.5},{"l":-5,"x":7.3,"y":1.5},{"l":-5,"x":7.55,"y":1.9},{"l":-5,"x":7.95,"y":1.75},{"l":-5,"x":8.25,"y":1.7},{"l":-5,"x":8.4,"y":1.2},{"l":-5,"x":8.85,"y":0.85},{"l":-5,"x":8.95,"y":0.23},
{"l":-7,"g":3,"x":6.1,"y":0.23},{"l":-7,"g":3,"x":6.15,"y":1.2},{"l":-7,"g":3,"x":6.4,"y":1.45},{"l":-7,"g":3,"x":6.6,"y":1.3},{"l":-7,"g":3,"x":7.05,"y":1.35},{"l":-7,"g":3,"x":7.7,"y":1.4},{"l":-7,"g":3,"x":8.0,"y":1.4},{"l":-7,"g":3,"x":8.2,"y":1.15},{"l":-7,"g":3,"x":8.5,"y":0.85},{"l":-7,"g":3,"x":8.75,"y":0.8},{"l":-7,"g":3,"x":8.85,"y":0.25},{"l":-7,"g":3,"x":8.87,"y":0.23},
{"l":-10,"x":6.12,"y":0.23},{"l":-10,"x":6.15,"y":0.75},{"l":-10,"x":6.4,"y":1.05},{"l":-10,"x":6.7,"y":1.1},{"l":-10,"x":7.05,"y":1.25},{"l":-10,"x":7.5,"y":1.25},{"l":-10,"x":7.9,"y":1.2},{"l":-10,"x":8.15,"y":0.9},{"l":-10,"x":8.5,"y":0.75},{"l":-10,"x":8.6,"y":0.4},{"l":-10,"x":8.65,"y":0.23},
{"l":-7,"g":4,"x":5.95,"y":0.23},{"l":-7,"g":4,"x":6.3,"y":0.42},{"l":-7,"g":4,"x":6.7,"y":0.45},{"l":-7,"g":4,"x":7.0,"y":0.25},{"l":-7,"g":4,"x":7.1,"y":0.23}],
"c2":[
{"l":1,"x":2.68,"y":2.65,"b":2.65},{"l":1,"x":2.85,"y":2.76,"b":2.55},{"l":1,"x":3.0,"y":2.65,"b":2.65},
{"l":0.5,"x":9.72,"y":1.3,"b":1.1},{"l":0.5,"x":9.9,"y":1.5,"b":0.85},{"l":0.5,"x":10.2,"y":1.5,"b":0.8},{"l":0.5,"x":10.38,"y":1.5,"b":0.8},
{"l":2,"x":9.85,"y":1.2,"b":0.95},{"l":2,"x":10.05,"y":1.35,"b":0.95},{"l":2,"x":10.38,"y":1.45,"b":0.9},
{"l":4,"x":10.15,"y":1.1,"b":1.0},{"l":4,"x":10.3,"y":1.35,"b":0.95},{"l":4,"x":10.38,"y":1.4,"b":0.95},
{"l":1,"g":2,"x":9.78,"y":2.0,"b":2.0},{"l":1,"g":2,"x":9.95,"y":2.2,"b":1.95},{"l":1,"g":2,"x":10.05,"y":2.0,"b":2.0},
{"l":1,"g":3,"x":10.3,"y":2.1,"b":1.7},{"l":1,"g":3,"x":10.38,"y":2.15,"b":1.7},
{"l":1,"g":4,"x":10.3,"y":0.7,"b":0.5},{"l":1,"g":4,"x":10.38,"y":0.75,"b":0.45}],
"d":[
{"l":0.5,"x":0,"y":2.05},{"l":0.5,"x":0.3,"y":2.0},{"l":0.5,"x":0.6,"y":2.3},{"l":0.5,"x":0.9,"y":2.15},{"l":0.5,"x":1.2,"y":2.6},{"l":0.5,"x":1.35,"y":3.0},{"l":0.5,"x":1.5,"y":2.6},{"l":0.5,"x":1.9,"y":2.3},{"l":0.5,"x":2.3,"y":2.4},{"l":0.5,"x":2.6,"y":2.35},{"l":0.5,"x":2.7,"y":1.8},{"l":0.5,"x":2.9,"y":1.2},{"l":0.5,"x":3.1,"y":0.85},{"l":0.5,"x":3.25,"y":0.6},{"l":0.5,"x":3.28,"y":0.23},
{"l":-1,"x":0,"y":1.65},{"l":-1,"x":0.35,"y":1.85},{"l":-1,"x":0.65,"y":2.05},{"l":-1,"x":0.95,"y":2.2},{"l":-1,"x":1.3,"y":2.6},{"l":-1,"x":1.6,"y":2.4},{"l":-1,"x":1.85,"y":2.1},{"l":-1,"x":2.2,"y":2.15},{"l":-1,"x":2.55,"y":1.7},{"l":-1,"x":2.7,"y":1.3},{"l":-1,"x":3.0,"y":0.9},{"l":-1,"x":3.1,"y":0.5},{"l":-1,"x":3.15,"y":0.23},
{"l":-3,"x":0,"y":1.35},{"l":-3,"x":0.4,"y":1.7},{"l":-3,"x":0.75,"y":1.95},{"l":-3,"x":1.0,"y":2.05},{"l":-3,"x":1.4,"y":2.35},{"l":-3,"x":1.65,"y":2.1},{"l":-3,"x":1.85,"y":1.75},{"l":-3,"x":2.3,"y":1.6},{"l":-3,"x":2.55,"y":1.25},{"l":-3,"x":2.8,"y":1.0},{"l":-3,"x":3.0,"y":0.6},{"l":-3,"x":3.1,"y":0.23},
{"l":-5,"x":0,"y":1.3},{"l":-5,"x":0.4,"y":1.45},{"l":-5,"x":0.7,"y":1.75},{"l":-5,"x":1.05,"y":1.9},{"l":-5,"x":1.35,"y":1.6},{"l":-5,"x":1.75,"y":1.7},{"l":-5,"x":2.2,"y":1.35},{"l":-5,"x":2.5,"y":1.35},{"l":-5,"x":2.7,"y":0.9},{"l":-5,"x":2.9,"y":0.65},{"l":-5,"x":3.05,"y":0.23},
{"l":-7,"x":0,"y":1.2},{"l":-7,"x":0.35,"y":1.25},{"l":-7,"x":0.7,"y":1.45},{"l":-7,"x":0.95,"y":1.6},{"l":-7,"x":1.3,"y":1.35},{"l":-7,"x":1.6,"y":1.65},{"l":-7,"x":1.9,"y":1.2},{"l":-7,"x":2.2,"y":1.05},{"l":-7,"x":2.5,"y":1.05},{"l":-7,"x":2.65,"y":0.7},{"l":-7,"x":2.85,"y":0.45},{"l":-7,"x":2.95,"y":0.23},
{"l":-10,"x":0,"y":0.95},{"l":-10,"x":0.5,"y":1.05},{"l":-10,"x":0.95,"y":1.15},{"l":-10,"x":1.3,"y":1.0},{"l":-10,"x":1.6,"y":1.2},{"l":-10,"x":1.9,"y":1.0},{"l":-10,"x":2.25,"y":0.98},{"l":-10,"x":2.45,"y":0.8},{"l":-10,"x":2.55,"y":0.45},{"l":-10,"x":2.6,"y":0.23},
{"l":0.5,"g":2,"x":3.55,"y":0.23},{"l":0.5,"g":2,"x":3.6,"y":1.0},{"l":0.5,"g":2,"x":3.8,"y":1.8},{"l":0.5,"g":2,"x":4.05,"y":1.85},{"l":0.5,"g":2,"x":4.25,"y":2.4},{"l":0.5,"g":2,"x":4.45,"y":2.5},{"l":0.5,"g":2,"x":4.7,"y":2.45},{"l":0.5,"g":2,"x":5.0,"y":2.5},{"l":0.5,"g":2,"x":5.4,"y":2.5},{"l":0.5,"g":2,"x":5.75,"y":2.35},{"l":0.5,"g":2,"x":6.0,"y":1.9},{"l":0.5,"g":2,"x":6.15,"y":2.1},{"l":0.5,"g":2,"x":6.5,"y":1.8},{"l":0.5,"g":2,"x":6.85,"y":1.75},{"l":0.5,"g":2,"x":6.9,"y":1.3},{"l":0.5,"g":2,"x":7.1,"y":0.75},{"l":0.5,"g":2,"x":7.25,"y":0.4},{"l":0.5,"g":2,"x":7.3,"y":0.23},
{"l":1,"x":3.65,"y":0.23},{"l":1,"x":3.7,"y":1.4},{"l":1,"x":3.85,"y":1.75},{"l":1,"x":4.1,"y":1.75},{"l":1,"x":4.3,"y":2.1},{"l":1,"x":4.55,"y":2.05},{"l":1,"x":4.85,"y":2.15},{"l":1,"x":5.15,"y":1.95},{"l":1,"x":5.45,"y":1.95},{"l":1,"x":5.75,"y":2.3},{"l":1,"x":6.0,"y":1.9},{"l":1,"x":6.3,"y":1.75},{"l":1,"x":6.6,"y":1.5},{"l":1,"x":6.85,"y":1.2},{"l":1,"x":7.05,"y":0.65},{"l":1,"x":7.2,"y":0.45},{"l":1,"x":7.25,"y":0.23},
{"l":3,"x":3.75,"y":0.23},{"l":3,"x":3.8,"y":1.2},{"l":3,"x":4.0,"y":1.3},{"l":3,"x":4.15,"y":1.6},{"l":3,"x":4.3,"y":2.0},{"l":3,"x":4.6,"y":1.95},{"l":3,"x":4.85,"y":2.0},{"l":3,"x":5.05,"y":1.85},{"l":3,"x":5.4,"y":1.7},{"l":3,"x":5.75,"y":2.25},{"l":3,"x":5.95,"y":1.85},{"l":3,"x":6.2,"y":1.5},{"l":3,"x":6.55,"y":1.45},{"l":3,"x":6.75,"y":1.05},{"l":3,"x":7.0,"y":0.6},{"l":3,"x":7.15,"y":0.45},{"l":3,"x":7.2,"y":0.23},
{"l":5,"x":4.1,"y":0.23},{"l":5,"x":4.15,"y":0.5},{"l":5,"x":4.3,"y":1.0},{"l":5,"x":4.5,"y":1.25},{"l":5,"x":4.9,"y":1.45},{"l":5,"x":5.2,"y":1.55},{"l":5,"x":5.55,"y":1.5},{"l":5,"x":5.9,"y":1.35},{"l":5,"x":6.2,"y":1.4},{"l":5,"x":6.5,"y":1.15},{"l":5,"x":6.7,"y":0.9},{"l":5,"x":7.0,"y":0.55},{"l":5,"x":7.15,"y":0.4},{"l":5,"x":7.18,"y":0.23},
{"l":7,"x":4.15,"y":0.23},{"l":7,"x":4.25,"y":0.75},{"l":7,"x":4.55,"y":1.1},{"l":7,"x":4.95,"y":1.3},{"l":7,"x":5.3,"y":1.5},{"l":7,"x":5.55,"y":1.25},{"l":7,"x":5.9,"y":1.25},{"l":7,"x":6.25,"y":1.0},{"l":7,"x":6.55,"y":0.9},{"l":7,"x":6.7,"y":0.6},{"l":7,"x":7.0,"y":0.5},{"l":7,"x":7.15,"y":0.38},{"l":7,"x":7.18,"y":0.23},
{"l":10,"x":4.2,"y":0.23},{"l":10,"x":4.25,"y":0.55},{"l":10,"x":4.6,"y":0.8},{"l":10,"x":4.9,"y":1.05},{"l":10,"x":5.2,"y":1.2},{"l":10,"x":5.6,"y":1.2},{"l":10,"x":6.0,"y":1.1},{"l":10,"x":6.3,"y":0.95},{"l":10,"x":6.5,"y":0.65},{"l":10,"x":6.7,"y":0.42},{"l":10,"x":7.0,"y":0.45},{"l":10,"x":7.15,"y":0.35},{"l":10,"x":7.18,"y":0.23},
{"l":0,"x":4.3,"y":0.23},{"l":0,"x":4.5,"y":0.45},{"l":0,"x":4.75,"y":0.52},{"l":0,"x":5.0,"y":0.23},
{"l":4,"x":6.2,"y":0.23},{"l":4,"x":6.45,"y":0.35},{"l":4,"x":6.65,"y":0.23},
{"l":0.5,"g":3,"x":7.4,"y":0.23},{"l":0.5,"g":3,"x":7.55,"y":0.55},{"l":0.5,"g":3,"x":7.85,"y":1.0},{"l":0.5,"g":3,"x":8.0,"y":1.6},{"l":0.5,"g":3,"x":8.4,"y":1.85},{"l":0.5,"g":3,"x":8.95,"y":2.35},{"l":0.5,"g":3,"x":9.5,"y":2.65},{"l":0.5,"g":3,"x":9.85,"y":2.3},{"l":0.5,"g":3,"x":10.15,"y":2.45},{"l":0.5,"g":3,"x":10.4,"y":2.1},
{"l":-1,"g":3,"x":7.45,"y":0.23},{"l":-1,"g":3,"x":7.65,"y":0.5},{"l":-1,"g":3,"x":7.95,"y":0.8},{"l":-1,"g":3,"x":8.05,"y":1.2},{"l":-1,"g":3,"x":8.2,"y":1.7},{"l":-1,"g":3,"x":8.7,"y":1.9},{"l":-1,"g":3,"x":9.0,"y":2.4},{"l":-1,"g":3,"x":9.45,"y":2.6},{"l":-1,"g":3,"x":9.65,"y":2.3},{"l":-1,"g":3,"x":10.0,"y":2.25},{"l":-1,"g":3,"x":10.25,"y":2.2},{"l":-1,"g":3,"x":10.4,"y":1.9},
{"l":-3,"g":3,"x":7.7,"y":0.23},{"l":-3,"g":3,"x":7.9,"y":0.45},{"l":-3,"g":3,"x":8.15,"y":0.75},{"l":-3,"g":3,"x":8.25,"y":1.2},{"l":-3,"g":3,"x":8.35,"y":1.55},{"l":-3,"g":3,"x":8.8,"y":1.8},{"l":-3,"g":3,"x":9.0,"y":2.2},{"l":-3,"g":3,"x":9.35,"y":1.9},{"l":-3,"g":3,"x":9.7,"y":2.0},{"l":-3,"g":3,"x":10.0,"y":1.85},{"l":-3,"g":3,"x":10.25,"y":1.85},{"l":-3,"g":3,"x":10.4,"y":1.85},
{"l":-5,"g":3,"x":7.8,"y":0.23},{"l":-5,"g":3,"x":8.2,"y":0.5},{"l":-5,"g":3,"x":8.45,"y":1.1},{"l":-5,"g":3,"x":8.55,"y":1.5},{"l":-5,"g":3,"x":9.0,"y":1.6},{"l":-5,"g":3,"x":9.4,"y":1.7},{"l":-5,"g":3,"x":9.85,"y":1.9},{"l":-5,"g":3,"x":10.1,"y":1.5},{"l":-5,"g":3,"x":10.25,"y":1.55},{"l":-5,"g":3,"x":10.4,"y":1.75},
{"l":-7,"g":3,"x":8.0,"y":0.23},{"l":-7,"g":3,"x":8.3,"y":0.45},{"l":-7,"g":3,"x":8.6,"y":1.05},{"l":-7,"g":3,"x":8.7,"y":1.4},{"l":-7,"g":3,"x":8.9,"y":1.2},{"l":-7,"g":3,"x":9.15,"y":1.3},{"l":-7,"g":3,"x":9.6,"y":1.65},{"l":-7,"g":3,"x":10.0,"y":1.45},{"l":-7,"g":3,"x":10.25,"y":1.1},{"l":-7,"g":3,"x":10.4,"y":1.15},
{"l":-10,"g":3,"x":8.3,"y":0.23},{"l":-10,"g":3,"x":8.5,"y":0.4},{"l":-10,"g":3,"x":8.95,"y":0.55},{"l":-10,"g":3,"x":9.1,"y":0.95},{"l":-10,"g":3,"x":9.4,"y":1.15},{"l":-10,"g":3,"x":9.6,"y":1.55},{"l":-10,"g":3,"x":9.85,"y":1.3},{"l":-10,"g":3,"x":10.2,"y":0.95},{"l":-10,"g":3,"x":10.4,"y":1.0}],
"d2":[
{"l":-7,"x":8.3,"y":1.3,"b":1.3},{"l":-7,"x":8.45,"y":1.45,"b":1.15},{"l":-7,"x":8.6,"y":1.3,"b":1.3},
{"l":6,"x":5.65,"y":2.15,"b":2.15},{"l":6,"x":5.78,"y":2.25,"b":2.0},{"l":6,"x":5.9,"y":2.15,"b":2.15}],
"e":[
{"l":0.5,"x":0.87,"y":0.23},{"l":0.5,"x":0.9,"y":0.55},{"l":0.5,"x":1.05,"y":0.72},{"l":0.5,"x":1.4,"y":0.75},{"l":0.5,"x":1.75,"y":0.85},{"l":0.5,"x":2.0,"y":0.65},{"l":0.5,"x":2.3,"y":0.7},{"l":0.5,"x":2.42,"y":0.8},{"l":0.5,"x":2.55,"y":0.5},{"l":0.5,"x":2.6,"y":0.35},{"l":0.5,"x":2.75,"y":0.5},{"l":0.5,"x":2.83,"y":0.23},
{"l":0,"x":1.1,"y":0.23},{"l":0,"x":1.5,"y":0.35},{"l":0,"x":2.0,"y":0.35},{"l":0,"x":2.3,"y":0.23},
{"l":5,"x":0.87,"y":0.23},{"l":5,"x":1.2,"y":0.26},{"l":5,"x":1.6,"y":0.25},{"l":5,"x":1.9,"y":0.27},{"l":5,"x":2.25,"y":0.28},{"l":5,"x":2.4,"y":0.23},
{"l":5,"g":2,"x":2.45,"y":0.23},{"l":5,"g":2,"x":2.6,"y":0.27},{"l":5,"g":2,"x":2.8,"y":0.23},
{"l":0.5,"g":3,"x":5.05,"y":0.23},{"l":0.5,"g":3,"x":5.5,"y":0.3},{"l":0.5,"g":3,"x":5.75,"y":0.4},{"l":0.5,"g":3,"x":6.0,"y":0.4},{"l":0.5,"g":3,"x":6.2,"y":0.23},
{"l":-1,"x":5.5,"y":0.23},{"l":-1,"x":5.75,"y":0.35},{"l":-1,"x":5.95,"y":0.5},{"l":-1,"x":6.15,"y":0.4},{"l":-1,"x":6.35,"y":0.23},
{"l":-3,"x":5.65,"y":0.23},{"l":-3,"x":5.85,"y":0.38},{"l":-3,"x":5.95,"y":0.48},{"l":-3,"x":6.1,"y":0.35},{"l":-3,"x":6.2,"y":0.3},{"l":-3,"x":6.35,"y":0.23},
{"l":-5,"x":5.8,"y":0.23},{"l":-5,"x":5.95,"y":0.38},{"l":-5,"x":6.1,"y":0.28},{"l":-5,"x":6.15,"y":0.23},
{"l":-5,"g":2,"x":6.2,"y":0.23},{"l":-5,"g":2,"x":6.35,"y":0.3},{"l":-5,"g":2,"x":6.55,"y":0.43},{"l":-5,"g":2,"x":6.72,"y":0.47},{"l":-5,"g":2,"x":6.85,"y":0.35},{"l":-5,"g":2,"x":6.88,"y":0.23},
{"l":-10,"x":6.3,"y":0.23},{"l":-10,"x":6.4,"y":0.3},{"l":-10,"x":6.55,"y":0.4},{"l":-10,"x":6.7,"y":0.45},{"l":-10,"x":6.8,"y":0.35},{"l":-10,"x":6.82,"y":0.23},
{"l":-5,"g":4,"x":8.0,"y":0.23},{"l":-5,"g":4,"x":8.1,"y":0.3},{"l":-5,"g":4,"x":8.28,"y":0.23},
{"l":0.5,"g":5,"x":9.2,"y":0.23},{"l":0.5,"g":5,"x":9.8,"y":0.28},{"l":0.5,"g":5,"x":10.0,"y":0.3},{"l":0.5,"g":5,"x":10.1,"y":0.23},
{"l":1,"g":5,"x":9.4,"y":0.23},{"l":1,"g":5,"x":9.9,"y":0.27},{"l":1,"g":5,"x":10.0,"y":0.33},{"l":1,"g":5,"x":10.1,"y":0.23}],
"e2":[
{"l":1,"x":0.9,"y":0.45,"b":0.35},{"l":1,"x":1.0,"y":0.6,"b":0.3},{"l":1,"x":1.1,"y":0.45,"b":0.35},
{"l":1,"g":2,"x":1.5,"y":0.65,"b":0.6},{"l":1,"g":2,"x":1.75,"y":0.7,"b":0.55},{"l":1,"g":2,"x":1.95,"y":0.65,"b":0.6},
{"l":1,"g":3,"x":2.3,"y":0.65,"b":0.65},{"l":1,"g":3,"x":2.4,"y":0.75,"b":0.6},{"l":1,"g":3,"x":2.5,"y":0.7,"b":0.65},
{"l":3,"x":6.62,"y":0.62,"b":0.6},{"l":3,"x":6.8,"y":0.7,"b":0.52},{"l":3,"x":7.0,"y":0.71,"b":0.45},{"l":3,"x":7.4,"y":0.66,"b":0.37},{"l":3,"x":7.7,"y":0.55,"b":0.37},{"l":3,"x":7.82,"y":0.48,"b":0.45},
{"l":10,"x":6.72,"y":0.6,"b":0.55},{"l":10,"x":6.95,"y":0.65,"b":0.48},{"l":10,"x":7.3,"y":0.6,"b":0.42},{"l":10,"x":7.6,"y":0.52,"b":0.42},{"l":10,"x":7.75,"y":0.48,"b":0.45},
{"l":3,"g":2,"x":8.03,"y":0.5,"b":0.48},{"l":3,"g":2,"x":8.2,"y":0.7,"b":0.3},{"l":3,"g":2,"x":8.6,"y":0.74,"b":0.25},{"l":3,"g":2,"x":9.0,"y":0.7,"b":0.25},{"l":3,"g":2,"x":9.2,"y":0.55,"b":0.3},{"l":3,"g":2,"x":9.33,"y":0.45,"b":0.45},
{"l":10,"g":2,"x":8.1,"y":0.5,"b":0.45},{"l":10,"g":2,"x":8.3,"y":0.68,"b":0.27},{"l":10,"g":2,"x":8.7,"y":0.7,"b":0.23},{"l":10,"g":2,"x":9.0,"y":0.6,"b":0.27},{"l":10,"g":2,"x":9.12,"y":0.45,"b":0.4},
{"l":0.5,"x":9.55,"y":0.6,"b":0.6},{"l":0.5,"x":9.65,"y":0.66,"b":0.55},{"l":0.5,"x":9.8,"y":0.6,"b":0.6}],
"f":[
{"l":0.5,"x":0,"y":1.9},{"l":0.5,"x":0.1,"y":1.85},{"l":0.5,"x":0.15,"y":1.5},{"l":0.5,"x":0.35,"y":1.4},{"l":0.5,"x":0.5,"y":1.45},{"l":0.5,"x":0.6,"y":1.2},{"l":0.5,"x":0.85,"y":1.0},{"l":0.5,"x":0.92,"y":0.23},
{"l":-1,"x":0,"y":1.5},{"l":-1,"x":0.15,"y":1.45},{"l":-1,"x":0.3,"y":1.15},{"l":-1,"x":0.6,"y":0.98},{"l":-1,"x":0.78,"y":0.95},{"l":-1,"x":0.8,"y":0.23},
{"l":-3,"x":0,"y":1.35},{"l":-3,"x":0.15,"y":1.35},{"l":-3,"x":0.3,"y":1.05},{"l":-3,"x":0.5,"y":0.9},{"l":-3,"x":0.55,"y":0.23},
{"l":-5,"x":0,"y":1.0},{"l":-5,"x":0.1,"y":0.95},{"l":-5,"x":0.12,"y":0.23},
{"l":0.5,"g":2,"x":4.25,"y":0.23},{"l":0.5,"g":2,"x":4.5,"y":0.45},{"l":0.5,"g":2,"x":4.6,"y":0.62},{"l":0.5,"g":2,"x":4.8,"y":0.42},{"l":0.5,"g":2,"x":5.2,"y":0.3},{"l":0.5,"g":2,"x":5.65,"y":0.28},{"l":0.5,"g":2,"x":5.72,"y":0.23},
{"l":-1,"g":2,"x":4.4,"y":0.23},{"l":-1,"g":2,"x":4.6,"y":0.3},{"l":-1,"g":2,"x":4.9,"y":0.35},{"l":-1,"g":2,"x":5.2,"y":0.3},{"l":-1,"g":2,"x":5.4,"y":0.28},{"l":-1,"g":2,"x":5.65,"y":0.23},
{"l":-5,"g":2,"x":4.5,"y":0.23},{"l":-5,"g":2,"x":4.85,"y":0.3},{"l":-5,"g":2,"x":5.2,"y":0.25},{"l":-5,"g":2,"x":5.6,"y":0.23},
{"l":-3,"g":2,"x":5.9,"y":0.23},{"l":-3,"g":2,"x":6.0,"y":0.38},{"l":-3,"g":2,"x":6.3,"y":0.4},{"l":-3,"g":2,"x":6.6,"y":0.5},{"l":-3,"g":2,"x":6.85,"y":0.5},{"l":-3,"g":2,"x":6.9,"y":0.3},{"l":-3,"g":2,"x":6.92,"y":0.23},
{"l":-10,"x":6.1,"y":0.23},{"l":-10,"x":6.2,"y":0.32},{"l":-10,"x":6.45,"y":0.37},{"l":-10,"x":6.62,"y":0.46},{"l":-10,"x":6.82,"y":0.42},{"l":-10,"x":6.87,"y":0.23},
{"l":-1,"g":3,"x":7.75,"y":0.23},{"l":-1,"g":3,"x":7.85,"y":0.28},{"l":-1,"g":3,"x":8.0,"y":0.23},
{"l":2,"x":8.8,"y":0.23},{"l":2,"x":8.9,"y":0.4},{"l":2,"x":9.0,"y":0.48},{"l":2,"x":9.05,"y":0.23},
{"l":-7,"x":9.05,"y":0.23},{"l":-7,"x":9.2,"y":0.36},{"l":-7,"x":9.35,"y":0.23}],
"f2":[
{"l":0.5,"x":0.87,"y":0.65,"b":0.23},{"l":0.5,"x":1.0,"y":0.65,"b":0.3},{"l":0.5,"x":1.3,"y":0.45,"b":0.25},{"l":0.5,"x":1.6,"y":0.3,"b":0.23},
{"l":-1,"x":0.87,"y":0.5,"b":0.25},{"l":-1,"x":1.1,"y":0.5,"b":0.3},{"l":-1,"x":1.3,"y":0.38,"b":0.27},{"l":-1,"x":1.35,"y":0.3,"b":0.25},
{"l":-7,"x":1.3,"y":0.25,"b":0.23},{"l":-7,"x":1.45,"y":0.27,"b":0.23},{"l":-7,"x":1.6,"y":0.23,"b":0.23},
{"l":0.5,"g":2,"x":4.65,"y":1.05,"b":0.95},{"l":0.5,"g":2,"x":4.8,"y":1.75,"b":0.85},{"l":0.5,"g":2,"x":5.0,"y":1.9,"b":0.85},{"l":0.5,"g":2,"x":5.2,"y":1.5,"b":0.85},{"l":0.5,"g":2,"x":5.4,"y":2.2,"b":1.05},{"l":0.5,"g":2,"x":5.6,"y":2.1,"b":1.2},{"l":0.5,"g":2,"x":5.85,"y":2.2,"b":1.0},{"l":0.5,"g":2,"x":6.15,"y":1.6,"b":0.85},{"l":0.5,"g":2,"x":6.45,"y":1.55,"b":1.05},{"l":0.5,"g":2,"x":6.75,"y":1.25,"b":1.05},{"l":0.5,"g":2,"x":7.0,"y":1.05,"b":1.05},
{"l":0,"x":5.0,"y":1.1,"b":1.1},{"l":0,"x":5.15,"y":1.25,"b":1.0},{"l":0,"x":5.3,"y":1.1,"b":1.1},
{"l":0,"g":2,"x":5.15,"y":1.85,"b":1.75},{"l":0,"g":2,"x":5.3,"y":1.95,"b":1.55},{"l":0,"g":2,"x":5.45,"y":1.75,"b":1.5},
{"l":-1,"g":3,"x":5.12,"y":1.41,"b":1.41},{"l":-1,"g":3,"x":5.26,"y":1.55,"b":1.28},{"l":-1,"g":3,"x":5.4,"y":1.41,"b":1.41},
{"l":-1,"g":4,"x":5.72,"y":2.05,"b":2.05},{"l":-1,"g":4,"x":5.82,"y":2.2,"b":1.9},{"l":-1,"g":4,"x":5.92,"y":2.05,"b":2.05},
{"l":-1,"g":5,"x":6.25,"y":1.55,"b":1.45},{"l":-1,"g":5,"x":6.42,"y":1.55,"b":1.25},{"l":-1,"g":5,"x":6.7,"y":1.35,"b":1.1},{"l":-1,"g":5,"x":6.9,"y":1.2,"b":1.1},
{"l":-1,"g":6,"x":7.48,"y":1.05,"b":1.05},{"l":-1,"g":6,"x":7.63,"y":1.2,"b":0.85},{"l":-1,"g":6,"x":7.78,"y":1.05,"b":1.05},
{"l":-3,"g":6,"x":7.56,"y":1.05,"b":1.05},{"l":-3,"g":6,"x":7.63,"y":1.12,"b":0.95},{"l":-3,"g":6,"x":7.7,"y":1.05,"b":1.05},
{"l":-1,"g":7,"x":5.18,"y":0.93,"b":0.93},{"l":-1,"g":7,"x":5.3,"y":1.05,"b":0.8},{"l":-1,"g":7,"x":5.42,"y":0.93,"b":0.93},
{"l":-1,"g":8,"x":6.02,"y":0.85,"b":0.85},{"l":-1,"g":8,"x":6.17,"y":1.0,"b":0.85},{"l":-1,"g":8,"x":6.3,"y":0.98,"b":0.98},
{"l":-1,"g":9,"x":5.68,"y":1.65,"b":1.65},{"l":-1,"g":9,"x":5.75,"y":1.8,"b":1.5},{"l":-1,"g":9,"x":5.82,"y":1.65,"b":1.65},
{"l":-1,"g":10,"x":5.65,"y":1.17,"b":1.17},{"l":-1,"g":10,"x":5.72,"y":1.3,"b":1.03},{"l":-1,"g":10,"x":5.8,"y":1.17,"b":1.17},
{"l":0.5,"g":11,"x":7.4,"y":1.05,"b":1.05},{"l":0.5,"g":11,"x":7.63,"y":1.25,"b":0.8},{"l":0.5,"g":11,"x":7.85,"y":1.05,"b":1.05},
{"l":0.5,"g":12,"x":5.3,"y":0.5,"b":0.5},{"l":0.5,"g":12,"x":5.8,"y":0.75,"b":0.35},{"l":0.5,"g":12,"x":6.1,"y":0.5,"b":0.35},
{"l":-1,"g":12,"x":5.55,"y":0.6,"b":0.5},{"l":-1,"g":12,"x":5.8,"y":0.68,"b":0.42},{"l":-1,"g":12,"x":6.0,"y":0.55,"b":0.45},
{"l":-3,"x":5.7,"y":0.55,"b":0.55},{"l":-3,"x":5.8,"y":0.62,"b":0.47},{"l":-3,"x":5.9,"y":0.55,"b":0.55},
{"l":3,"x":6.84,"y":0.65,"b":0.65},{"l":3,"x":7.05,"y":0.67,"b":0.55},{"l":3,"x":7.35,"y":0.58,"b":0.42},{"l":3,"x":7.6,"y":0.58,"b":0.33},{"l":3,"x":7.78,"y":0.55,"b":0.4},
{"l":6,"x":7.15,"y":0.58,"b":0.5},{"l":6,"x":7.4,"y":0.52,"b":0.4},{"l":6,"x":7.65,"y":0.47,"b":0.38},
{"l":-3,"g":2,"x":8.3,"y":0.36,"b":0.36},{"l":-3,"g":2,"x":8.45,"y":0.47,"b":0.26},{"l":-3,"g":2,"x":8.6,"y":0.36,"b":0.36},
{"l":3,"g":2,"x":9.2,"y":0.5,"b":0.5},{"l":3,"g":2,"x":9.37,"y":0.75,"b":0.47},{"l":3,"g":2,"x":9.6,"y":0.5,"b":0.47},
{"l":5,"x":9.3,"y":0.57,"b":0.5},{"l":5,"x":9.37,"y":0.65,"b":0.47},{"l":5,"x":9.45,"y":0.55,"b":0.5},
{"l":3,"g":3,"x":9.75,"y":0.7,"b":0.6},{"l":3,"g":3,"x":9.87,"y":0.9,"b":0.48},{"l":3,"g":3,"x":9.98,"y":0.7,"b":0.6},
{"l":0.5,"g":13,"x":10.2,"y":0.85,"b":0.75},{"l":0.5,"g":13,"x":10.4,"y":0.98,"b":0.65}],
"g":[
{"l":0.5,"x":0,"y":1.55},{"l":0.5,"x":0.3,"y":1.9},{"l":0.5,"x":0.6,"y":2.3},{"l":0.5,"x":0.8,"y":2.4},{"l":0.5,"x":0.9,"y":2.0},{"l":0.5,"x":1.15,"y":1.8},{"l":0.5,"x":1.25,"y":1.15},{"l":0.5,"x":1.3,"y":0.9},{"l":0.5,"x":1.35,"y":0.23},
{"l":-1,"x":0,"y":1.4},{"l":-1,"x":0.2,"y":1.55},{"l":-1,"x":0.42,"y":1.6},{"l":-1,"x":0.65,"y":1.3},{"l":-1,"x":0.9,"y":1.15},{"l":-1,"x":1.15,"y":1.0},{"l":-1,"x":1.2,"y":0.8},{"l":-1,"x":1.22,"y":0.23},
{"l":-3,"x":0,"y":1.35},{"l":-3,"x":0.25,"y":1.3},{"l":-3,"x":0.42,"y":1.5},{"l":-3,"x":0.55,"y":1.25},{"l":-3,"x":0.7,"y":0.95},{"l":-3,"x":0.85,"y":0.95},{"l":-3,"x":0.9,"y":0.9},{"l":-3,"x":0.95,"y":0.23},
{"l":0.5,"g":2,"x":0.87,"y":0.7},{"l":0.5,"g":2,"x":1.1,"y":0.75},{"l":0.5,"g":2,"x":1.35,"y":0.55},{"l":0.5,"g":2,"x":1.7,"y":0.55},{"l":0.5,"g":2,"x":2.1,"y":0.7},{"l":0.5,"g":2,"x":2.25,"y":0.7},{"l":0.5,"g":2,"x":2.32,"y":0.23},
{"l":-1,"g":2,"x":0.87,"y":0.6},{"l":-1,"g":2,"x":1.15,"y":0.7},{"l":-1,"g":2,"x":1.35,"y":0.5},{"l":-1,"g":2,"x":1.6,"y":0.3},{"l":-1,"g":2,"x":1.85,"y":0.42},{"l":-1,"g":2,"x":2.15,"y":0.65},{"l":-1,"g":2,"x":2.25,"y":0.5},{"l":-1,"g":2,"x":2.3,"y":0.23},
{"l":-3,"g":2,"x":0.87,"y":0.5},{"l":-3,"g":2,"x":1.05,"y":0.55},{"l":-3,"g":2,"x":1.25,"y":0.6},{"l":-3,"g":2,"x":1.5,"y":0.4},{"l":-3,"g":2,"x":1.55,"y":0.23},
{"l":-5,"x":0.87,"y":0.35},{"l":-5,"x":1.2,"y":0.5},{"l":-5,"x":1.35,"y":0.45},{"l":-5,"x":1.45,"y":0.23},
{"l":-10,"x":1.0,"y":0.23},{"l":-10,"x":1.2,"y":0.28},{"l":-10,"x":1.5,"y":0.23},
{"l":-3,"g":3,"x":7.15,"y":0.23},{"l":-3,"g":3,"x":7.3,"y":0.5},{"l":-3,"g":3,"x":7.6,"y":0.6},{"l":-3,"g":3,"x":7.65,"y":0.23},
{"l":-7,"x":7.3,"y":0.23},{"l":-7,"x":7.38,"y":0.35},{"l":-7,"x":7.55,"y":0.45},{"l":-7,"x":7.58,"y":0.23},
{"l":5,"x":6.35,"y":0.23},{"l":5,"x":6.4,"y":0.38},{"l":5,"x":6.55,"y":0.44},{"l":5,"x":6.72,"y":0.36},{"l":5,"x":6.78,"y":0.23},
{"l":2,"x":8.1,"y":0.23},{"l":2,"x":8.15,"y":0.36},{"l":2,"x":8.35,"y":0.23},
{"l":-1,"g":4,"x":9.75,"y":0.23},{"l":-1,"g":4,"x":9.9,"y":0.35},{"l":-1,"g":4,"x":10.0,"y":0.23}],
"g2":[
{"l":0.5,"x":0.12,"y":0.9,"b":0.85},{"l":0.5,"x":0.3,"y":1.1,"b":0.85},{"l":0.5,"x":0.4,"y":1.0,"b":0.85},
{"l":0.5,"g":2,"x":1.4,"y":1.05,"b":1.05},{"l":0.5,"g":2,"x":1.6,"y":1.2,"b":0.9},{"l":0.5,"g":2,"x":1.8,"y":1.05,"b":1.05},
{"l":-1,"x":1.5,"y":1.05,"b":1.05},{"l":-1,"x":1.6,"y":1.12,"b":0.98},{"l":-1,"x":1.68,"y":1.05,"b":1.05},
{"l":-3,"x":1.9,"y":0.41,"b":0.41},{"l":-3,"x":2.03,"y":0.52,"b":0.3},{"l":-3,"x":2.13,"y":0.41,"b":0.41},
{"l":-3,"g":2,"x":6.72,"y":0.62,"b":0.55},{"l":-3,"g":2,"x":6.85,"y":0.72,"b":0.48},{"l":-3,"g":2,"x":7.3,"y":0.7,"b":0.45},{"l":-3,"g":2,"x":7.62,"y":0.6,"b":0.4},
{"l":-7,"x":6.8,"y":0.6,"b":0.55},{"l":-7,"x":7.0,"y":0.62,"b":0.5},{"l":-7,"x":7.3,"y":0.58,"b":0.42},{"l":-7,"x":7.55,"y":0.5,"b":0.35},
{"l":-1,"g":2,"x":7.9,"y":0.62,"b":0.62},{"l":-1,"g":2,"x":8.2,"y":0.72,"b":0.45},{"l":-1,"g":2,"x":8.55,"y":0.72,"b":0.3},{"l":-1,"g":2,"x":8.7,"y":0.73,"b":0.28},{"l":-1,"g":2,"x":9.0,"y":0.6,"b":0.42},{"l":-1,"g":2,"x":9.15,"y":0.5,"b":0.45},
{"l":-5,"x":8.3,"y":0.53,"b":0.53},{"l":-5,"x":8.5,"y":0.66,"b":0.4},{"l":-5,"x":8.7,"y":0.72,"b":0.3},{"l":-5,"x":8.95,"y":0.55,"b":0.4},
{"l":-10,"x":8.45,"y":0.53,"b":0.52},{"l":-10,"x":8.7,"y":0.63,"b":0.38},{"l":-10,"x":8.88,"y":0.52,"b":0.45},
{"l":0.5,"g":3,"x":8.55,"y":0.7,"b":0.7},{"l":0.5,"g":3,"x":8.66,"y":0.95,"b":0.7},{"l":0.5,"g":3,"x":8.78,"y":0.7,"b":0.7},
{"l":0.5,"g":4,"x":7.25,"y":1.36,"b":1.36},{"l":0.5,"g":4,"x":7.41,"y":1.58,"b":1.18},{"l":0.5,"g":4,"x":7.55,"y":1.36,"b":1.36},
{"l":-1,"g":4,"x":7.35,"y":1.36,"b":1.36},{"l":-1,"g":4,"x":7.41,"y":1.45,"b":1.28},{"l":-1,"g":4,"x":7.47,"y":1.36,"b":1.36},
{"l":0.5,"g":5,"x":9.5,"y":0.43,"b":0.43},{"l":0.5,"g":5,"x":9.6,"y":0.48,"b":0.38},{"l":0.5,"g":5,"x":9.7,"y":0.43,"b":0.43},
{"l":0.5,"g":6,"x":10.0,"y":0.52,"b":0.45},{"l":0.5,"g":6,"x":10.2,"y":0.52,"b":0.45},{"l":0.5,"g":6,"x":10.4,"y":0.48,"b":0.42}],
"h":[
{"l":0.5,"x":4.6,"y":0.23},{"l":0.5,"x":5.0,"y":0.27},{"l":0.5,"x":5.5,"y":0.4},{"l":0.5,"x":5.9,"y":0.5},{"l":0.5,"x":6.15,"y":0.42},{"l":0.5,"x":6.5,"y":0.42},{"l":0.5,"x":6.7,"y":0.5},{"l":0.5,"x":6.85,"y":0.45},{"l":0.5,"x":6.95,"y":0.23},
{"l":3,"x":5.0,"y":0.23},{"l":3,"x":5.4,"y":0.28},{"l":3,"x":5.65,"y":0.35},{"l":3,"x":5.95,"y":0.42},{"l":3,"x":6.2,"y":0.33},{"l":3,"x":6.5,"y":0.38},{"l":3,"x":6.68,"y":0.47},{"l":3,"x":6.85,"y":0.4},{"l":3,"x":6.92,"y":0.23},
{"l":6,"x":5.6,"y":0.23},{"l":6,"x":5.85,"y":0.32},{"l":6,"x":6.05,"y":0.27},{"l":6,"x":6.4,"y":0.33},{"l":6,"x":6.65,"y":0.42},{"l":6,"x":6.82,"y":0.35},{"l":6,"x":6.88,"y":0.23},
{"l":10,"x":6.35,"y":0.23},{"l":10,"x":6.45,"y":0.3},{"l":10,"x":6.65,"y":0.38},{"l":10,"x":6.8,"y":0.32},{"l":10,"x":6.85,"y":0.23},
{"l":3,"g":2,"x":7.15,"y":0.23},{"l":3,"g":2,"x":7.27,"y":0.38},{"l":3,"g":2,"x":7.4,"y":0.23},
{"l":3,"g":3,"x":7.75,"y":0.23},{"l":3,"g":3,"x":7.88,"y":0.33},{"l":3,"g":3,"x":8.02,"y":0.23}],
"h2":[
{"l":0.5,"x":0,"y":2.0,"b":1.55},{"l":0.5,"x":0.15,"y":1.75,"b":1.55},{"l":0.5,"x":0.32,"y":1.65,"b":1.55},
{"l":0.5,"g":2,"x":0,"y":1.4,"b":0.95},{"l":0.5,"g":2,"x":0.15,"y":1.4,"b":0.95},{"l":0.5,"g":2,"x":0.27,"y":1.2,"b":0.95},
{"l":1,"x":0,"y":1.3,"b":0.97},{"l":1,"x":0.1,"y":1.25,"b":1.0},{"l":1,"x":0.18,"y":1.15,"b":1.0},
{"l":0.5,"g":3,"x":4.2,"y":1.1,"b":1.05},{"l":0.5,"g":3,"x":4.6,"y":1.0,"b":0.85},{"l":0.5,"g":3,"x":4.95,"y":1.1,"b":0.6},{"l":0.5,"g":3,"x":5.2,"y":1.35,"b":0.75},{"l":0.5,"g":3,"x":5.45,"y":1.4,"b":0.85},{"l":0.5,"g":3,"x":5.6,"y":1.0,"b":0.7},{"l":0.5,"g":3,"x":5.8,"y":1.1,"b":0.7},{"l":0.5,"g":3,"x":6.15,"y":1.4,"b":0.95},{"l":0.5,"g":3,"x":6.2,"y":1.2,"b":1.2},
{"l":2,"g":4,"x":4.85,"y":0.95,"b":0.95},{"l":2,"g":4,"x":4.98,"y":1.1,"b":0.78},{"l":2,"g":4,"x":5.1,"y":0.95,"b":0.95},
{"l":2,"g":5,"x":5.12,"y":1.22,"b":1.22},{"l":2,"g":5,"x":5.28,"y":1.32,"b":1.12},{"l":2,"g":5,"x":5.42,"y":1.22,"b":1.22},
{"l":2,"g":6,"x":5.52,"y":0.82,"b":0.82},{"l":2,"g":6,"x":5.65,"y":0.95,"b":0.7},{"l":2,"g":6,"x":5.78,"y":0.82,"b":0.82},
{"l":2,"g":7,"x":5.88,"y":0.9,"b":0.9},{"l":2,"g":7,"x":6.0,"y":1.02,"b":0.8},{"l":2,"g":7,"x":6.12,"y":0.9,"b":0.9},
{"l":0.5,"g":8,"x":5.68,"y":1.53,"b":1.53},{"l":0.5,"g":8,"x":5.82,"y":1.68,"b":1.35},{"l":0.5,"g":8,"x":6.0,"y":1.58,"b":1.53},{"l":0.5,"g":8,"x":6.25,"y":1.57,"b":1.53},
{"l":1,"g":8,"x":5.74,"y":1.53,"b":1.53},{"l":1,"g":8,"x":5.82,"y":1.6,"b":1.42},{"l":1,"g":8,"x":5.9,"y":1.53,"b":1.53},
{"l":0.5,"g":9,"x":5.08,"y":1.64,"b":1.64},{"l":0.5,"g":9,"x":5.24,"y":1.78,"b":1.5},{"l":0.5,"g":9,"x":5.38,"y":1.64,"b":1.64},
{"l":0.5,"g":10,"x":6.48,"y":1.05,"b":1.05},{"l":0.5,"g":10,"x":6.68,"y":1.27,"b":0.75},{"l":0.5,"g":10,"x":6.88,"y":1.05,"b":1.05},
{"l":2,"g":10,"x":6.55,"y":1.05,"b":1.05},{"l":2,"g":10,"x":6.68,"y":1.18,"b":0.85},{"l":2,"g":10,"x":6.8,"y":1.05,"b":1.05},
{"l":0.5,"g":11,"x":6.96,"y":1.73,"b":1.73},{"l":0.5,"g":11,"x":7.06,"y":1.85,"b":1.6},{"l":0.5,"g":11,"x":7.16,"y":1.73,"b":1.73},
{"l":0.5,"g":12,"x":3.98,"y":1.35,"b":1.35},{"l":0.5,"g":12,"x":4.09,"y":1.5,"b":1.2},{"l":0.5,"g":12,"x":4.2,"y":1.35,"b":1.35},
{"l":-3,"x":6.95,"y":0.55,"b":0.55},{"l":-3,"x":7.12,"y":0.63,"b":0.48},{"l":-3,"x":7.3,"y":0.55,"b":0.55},
{"l":-3,"g":2,"x":7.4,"y":0.53,"b":0.53},{"l":-3,"g":2,"x":7.57,"y":0.6,"b":0.42},{"l":-3,"g":2,"x":7.72,"y":0.5,"b":0.5},
{"l":-1,"x":8.2,"y":0.55,"b":0.5},{"l":-1,"x":8.4,"y":0.65,"b":0.35},{"l":-1,"x":8.65,"y":0.65,"b":0.23},{"l":-1,"x":8.84,"y":0.5,"b":0.4},
{"l":-7,"x":8.3,"y":0.55,"b":0.5},{"l":-7,"x":8.5,"y":0.6,"b":0.4},{"l":-7,"x":8.65,"y":0.6,"b":0.28},{"l":-7,"x":8.78,"y":0.48,"b":0.4},
{"l":0.5,"g":13,"x":8.7,"y":1.09,"b":1.09},{"l":0.5,"g":13,"x":8.8,"y":1.22,"b":0.93},{"l":0.5,"g":13,"x":8.9,"y":1.09,"b":1.09},
{"l":0.5,"g":14,"x":10.0,"y":1.4,"b":1.4},{"l":0.5,"g":14,"x":10.1,"y":1.45,"b":1.3},{"l":0.5,"g":14,"x":10.25,"y":1.25,"b":1.25}],
"cbar":[{"l":-10,"x":3.336,"x2":4.21,"y":-1.09,"y2":-1.417},{"l":-9,"x":4.21,"x2":4.457,"y":-1.09,"y2":-1.417},{"l":-8,"x":4.457,"x2":4.835,"y":-1.09,"y2":-1.417},{"l":-7,"x":4.835,"x2":4.96,"y":-1.09,"y2":-1.417},{"l":-6,"x":4.96,"x2":5.207,"y":-1.09,"y2":-1.417},{"l":-5,"x":5.207,"x2":5.452,"y":-1.09,"y2":-1.417},{"l":-4,"x":5.452,"x2":5.697,"y":-1.09,"y2":-1.417},{"l":-3,"x":5.697,"x2":5.935,"y":-1.09,"y2":-1.417},{"l":-2,"x":5.935,"x2":6.188,"y":-1.09,"y2":-1.417},{"l":-1,"x":6.188,"x2":6.37,"y":-1.09,"y2":-1.417},{"l":0,"x":6.37,"x2":7.21,"y":-1.09,"y2":-1.417},{"l":1,"x":7.21,"x2":7.435,"y":-1.09,"y2":-1.417},{"l":2,"x":7.435,"x2":7.68,"y":-1.09,"y2":-1.417},{"l":3,"x":7.68,"x2":7.926,"y":-1.09,"y2":-1.417},{"l":4,"x":7.926,"x2":8.17,"y":-1.09,"y2":-1.417},{"l":5,"x":8.17,"x2":8.416,"y":-1.09,"y2":-1.417},{"l":6,"x":8.416,"x2":8.66,"y":-1.09,"y2":-1.417},{"l":7,"x":8.66,"x2":8.92,"y":-1.09,"y2":-1.417},{"l":8,"x":8.92,"x2":9.152,"y":-1.09,"y2":-1.417},{"l":9,"x":9.152,"x2":9.397,"y":-1.09,"y2":-1.417},{"l":10,"x":9.397,"x2":10.26,"y":-1.09,"y2":-1.417}]
},
"concat":[
{"width":898,"height":552,"encoding":{"x":{"field":"x","type":"quantitative","scale":{"domain":[0,10.4]},"axis":null},"y":{"field":"y","type":"quantitative","scale":{"domain":[-0.417,4.281]},"axis":null}},
"layer":[
{"data":{"name":"a"},"mark":"area","encoding":{"y2":{"datum":0.23},"color":{"field":"l","type":"nominal"},"detail":{"field":"g"}}},
{"data":{"name":"a2"},"mark":"area","encoding":{"y2":{"field":"b"},"color":{"field":"l","type":"nominal"},"detail":{"field":"g"}}},
{"data":{"name":"box"},"mark":{"type":"rect","fill":"white"},"encoding":{"x2":{"field":"x2"},"y2":{"field":"y2"}}},
{"data":{"name":"bar"},"mark":{"type":"rect","fill":"black"},"encoding":{"x2":{"field":"x2"},"y2":{"field":"y2"}}},
{"data":{"values":[{"x":3.07,"y":1.764},{"x":4.007,"y":-0.417}]},"mark":{"type":"line","color":"#111","strokeWidth":5,"strokeDash":[31,31]},"encoding":{}},
{"data":{"values":[{"x":3.5,"y":2.43,"y2":1.6},{"x":7.66,"y":1.3,"y2":2.0}]},"mark":{"type":"rule","color":"#111","strokeWidth":5},"encoding":{"y2":{"field":"y2"}}},
{"data":{"values":[{"x":3.5,"y":1.655}]},"mark":{"type":"point","filled":true,"color":"#111","opacity":1,"size":1849,"shape":"M0,1L.56,-1L-.56,-1Z"},"encoding":{}},
{"data":{"values":[{"x":7.66,"y":2.055}]},"mark":{"type":"point","filled":true,"color":"#111","opacity":1,"size":1849,"shape":"M0,-1L.56,1L-.56,1Z"},"encoding":{}},
{"data":{"values":[{"x":0.09,"y":0.43,"t":"(a)"}]},"mark":{"type":"text","fontSize":50,"fontWeight":"bold"},"encoding":{"text":{"field":"t"}}},
{"data":{"values":[{"x":5.22,"y":3.85,"t":"WITH EXCITATION"}]},"mark":{"type":"text","fontSize":50,"align":"center"},"encoding":{"text":{"field":"t"}}},
{"data":{"values":[{"x":-0.156,"x2":2.04,"y":3.52,"y2":2.885}]},"mark":{"type":"rect","fill":"white","stroke":"#222","strokeWidth":2},"encoding":{"x2":{"field":"x2"},"y2":{"field":"y2"}}},
{"data":{"values":[{"x":0.006,"y":3.08,"t":"(v"},{"x":0.91,"y":3.08,"t":")"},{"x":1.29,"y":3.08,"t":"/U"}]},"mark":{"type":"text","fontSize":44},"encoding":{"text":{"field":"t"}}},
{"data":{"values":[{"x":0.48,"y":3.0,"t":"TS"},{"x":1.09,"y":3.0,"t":"p"}]},"mark":{"type":"text","fontSize":30},"encoding":{"text":{"field":"t"}}},
{"data":{"values":[{"x":9.55,"x2":11.99,"y":3.66,"y2":2.63}]},"mark":{"type":"rect","fill":"white","stroke":"#222","strokeWidth":2},"encoding":{"x2":{"field":"x2"},"y2":{"field":"y2"}}},
{"data":{"values":[{"g":1,"x":9.98,"y":3.55},{"g":1,"x":9.98,"y":2.7},{"g":2,"x":9.98,"y":3.14},{"g":2,"x":11.53,"y":3.14},{"g":3,"x":9.98,"y":3.14},{"g":3,"x":10.145,"y":3.45},{"g":3,"x":10.31,"y":3.58},{"g":3,"x":10.475,"y":3.45},{"g":3,"x":10.64,"y":3.14},{"g":3,"x":10.805,"y":2.83},{"g":3,"x":10.97,"y":2.7},{"g":3,"x":11.135,"y":2.83},{"g":3,"x":11.3,"y":3.14}]},"mark":{"type":"line","color":"#222","strokeWidth":1.6,"interpolate":"monotone"},"encoding":{"detail":{"field":"g"},"order":{"value":null}}},
{"data":{"values":[{"x":9.98,"y":3.14}]},"mark":{"type":"point","filled":true,"color":"#f00010","opacity":1,"size":220,"shape":"circle"},"encoding":{}},
{"data":{"values":[{"x":9.65,"y":3.41,"t":"p"},{"x":11.48,"y":2.9,"t":"t"},{"x":10.65,"y":3.33,"t":"ϕ=0°"}]},"mark":{"type":"text","fontSize":34},"encoding":{"text":{"field":"t"}}}
]},
{"width":900,"height":552,"encoding":{"x":{"field":"x","type":"quantitative","scale":{"domain":[0,10.4]},"axis":null},"y":{"field":"y","type":"quantitative","scale":{"domain":[-0.417,4.281]},"axis":null}},
"layer":[
{"data":{"name":"e"},"mark":"area","encoding":{"y2":{"datum":0.23},"color":{"field":"l","type":"nominal"},"detail":{"field":"g"}}},
{"data":{"name":"e2"},"mark":"area","encoding":{"y2":{"field":"b"},"color":{"field":"l","type":"nominal"},"detail":{"field":"g"}}},
{"data":{"name":"bar"},"mark":{"type":"rect","fill":"black"},"encoding":{"x2":{"field":"x2"},"y2":{"field":"y2"}}},
{"data":{"values":[{"x":1.71,"y":0.47,"y2":1.1}]},"mark":{"type":"rule","color":"#111","strokeWidth":5},"encoding":{"y2":{"field":"y2"}}},
{"data":{"values":[{"x":1.71,"y":1.235}]},"mark":{"type":"point","filled":true,"color":"#111","opacity":1,"size":1849,"shape":"M0,-1L.56,1L-.56,1Z"},"encoding":{}},
{"data":{"values":[{"x":0.09,"y":0.43,"t":"(e)"}]},"mark":{"type":"text","fontSize":50,"fontWeight":"bold"},"encoding":{"text":{"field":"t"}}},
{"data":{"values":[{"x":5.29,"y":3.85,"t":"WITH EXCITATION & CONTROL"}]},"mark":{"type":"text","fontSize":50,"align":"center"},"encoding":{"text":{"field":"t"}}},
{"data":{"values":[{"x":6.29,"y":2.83},{"x":6.76,"y":3.28},{"x":7.32,"y":2.83}]},"mark":{"type":"area","interpolate":"linear","color":{"gradient":"linear","x1":0,"y1":0,"x2":0,"y2":1,"stops":[{"offset":0,"color":"#98e600"},{"offset":1,"color":"#e2f7b8"}]}},"encoding":{"y2":{"datum":2.83}}},
{"data":{"values":[{"x":4.36,"x2":4.64,"y":2.89,"y2":2.82},{"x":6.13,"x2":6.4,"y":2.89,"y2":2.82}]},"mark":{"type":"rect","fill":"#111"},"encoding":{"x2":{"field":"x2"},"y2":{"field":"y2"}}},
{"data":{"values":[{"x":6.56,"x2":6.95,"y":3.11,"y2":2.84}]},"mark":{"type":"rect","fillOpacity":0,"stroke":"#111","strokeWidth":1.6},"encoding":{"x2":{"field":"x2"},"y2":{"field":"y2"}}},
{"data":{"values":[{"g":1,"x":4.22,"y":2.82},{"g":1,"x":9.46,"y":2.82},{"g":2,"x":4.22,"y":2.54},{"g":2,"x":9.46,"y":2.54},{"g":3,"x":4.13,"y":2.83},{"g":3,"x":3.9,"y":2.76},{"g":3,"x":3.8,"y":2.68},{"g":3,"x":3.9,"y":2.6},{"g":3,"x":4.13,"y":2.52},{"g":4,"x":9.55,"y":2.78},{"g":4,"x":10.3,"y":2.34},{"g":4,"x":9.56,"y":2.54}]},"mark":{"type":"line","color":"#111","strokeWidth":4.5},"encoding":{"detail":{"field":"g"},"order":{"value":null}}},
{"data":{"values":[{"g":1,"x":4.16,"y":2.9},{"g":1,"x":4.13,"y":2.76},{"g":1,"x":4.17,"y":2.62},{"g":1,"x":4.14,"y":2.49},{"g":2,"x":4.24,"y":2.9},{"g":2,"x":4.21,"y":2.76},{"g":2,"x":4.25,"y":2.62},{"g":2,"x":4.22,"y":2.49},{"g":3,"x":9.46,"y":2.9},{"g":3,"x":9.43,"y":2.76},{"g":3,"x":9.47,"y":2.62},{"g":3,"x":9.44,"y":2.49},{"g":4,"x":9.54,"y":2.9},{"g":4,"x":9.51,"y":2.76},{"g":4,"x":9.55,"y":2.62},{"g":4,"x":9.52,"y":2.49}]},"mark":{"type":"line","color":"#111","strokeWidth":3},"encoding":{"detail":{"field":"g"},"order":{"value":null}}},
{"data":{"values":[{"g":1,"x":5.08,"y":3.29},{"g":1,"x":4.71,"y":3.17},{"g":1,"x":4.49,"y":2.88},{"g":2,"x":7.06,"y":3.41},{"g":2,"x":6.58,"y":3.3},{"g":2,"x":6.29,"y":2.88},{"g":3,"x":6.8,"y":2.85},{"g":3,"x":6.98,"y":2.27},{"g":3,"x":7.19,"y":2.27}]},"mark":{"type":"line","color":"#111","strokeWidth":1.6},"encoding":{"detail":{"field":"g"},"order":{"value":null}}},
{"data":{"values":[{"x":3.17,"y":3.137,"x2":3.9}]},"mark":{"type":"rule","color":"#111","strokeWidth":5},"encoding":{"x2":{"field":"x2"}}},
{"data":{"values":[{"x":4.0,"y":3.137}]},"mark":{"type":"point","filled":true,"color":"#111","opacity":1,"size":841,"shape":"M1,0L-1,.52L-1,-.52Z"},"encoding":{}},
{"data":{"values":[{"x":3.3,"y":3.26,"t":"U"},{"x":4.72,"y":3.34,"t":"PDOS 1"},{"x":7.13,"y":3.32,"t":"PDOS 2"},{"x":3.41,"y":2.27,"t":"LE"},{"x":9.66,"y":2.92,"t":"TE"},{"x":7.25,"y":2.2,"t":"x/λ = 17.3"},{"x":6.56,"y":2.85,"t":"X"}]},"mark":{"type":"text","fontSize":40},"encoding":{"text":{"field":"t"}}}
]},
{"width":898,"height":524,"encoding":{"x":{"field":"x","type":"quantitative","scale":{"domain":[0,10.4]},"axis":null},"y":{"field":"y","type":"quantitative","scale":{"domain":[-0.417,4.043]},"axis":null}},
"layer":[
{"data":{"name":"b"},"mark":"area","encoding":{"y2":{"datum":0.23},"color":{"field":"l","type":"nominal"},"detail":{"field":"g"}}},
{"data":{"name":"box"},"mark":{"type":"rect","fill":"white"},"encoding":{"x2":{"field":"x2"},"y2":{"field":"y2"}}},
{"data":{"name":"bar"},"mark":{"type":"rect","fill":"black"},"encoding":{"x2":{"field":"x2"},"y2":{"field":"y2"}}},
{"data":{"values":[{"x":4.007,"y":4.043},{"x":5.921,"y":-0.417}]},"mark":{"type":"line","color":"#111","strokeWidth":5,"strokeDash":[31,31],"strokeDashOffset":20.5},"encoding":{}},
{"data":{"values":[{"x":1.2,"y":1.71,"y2":2.4},{"x":5.18,"y":2.59,"y2":1.8}]},"mark":{"type":"rule","color":"#111","strokeWidth":5},"encoding":{"y2":{"field":"y2"}}},
{"data":{"values":[{"x":5.18,"y":1.825}]},"mark":{"type":"point","filled":true,"color":"#111","opacity":1,"size":1849,"shape":"M0,1L.56,-1L-.56,-1Z"},"encoding":{}},
{"data":{"values":[{"x":1.2,"y":2.465}]},"mark":{"type":"point","filled":true,"color":"#111","opacity":1,"size":1849,"shape":"M0,-1L.56,1L-.56,1Z"},"encoding":{}},
{"data":{"values":[{"x":0.1,"y":0.445,"t":"(b)"}]},"mark":{"type":"text","fontSize":50,"fontWeight":"bold"},"encoding":{"text":{"field":"t"}}},
{"data":{"values":[{"x":9.55,"x2":11.99,"y":3.53,"y2":2.49}]},"mark":{"type":"rect","fill":"white","stroke":"#222","strokeWidth":2},"encoding":{"x2":{"field":"x2"},"y2":{"field":"y2"}}},
{"data":{"values":[{"g":1,"x":9.98,"y":3.42},{"g":1,"x":9.98,"y":2.57},{"g":2,"x":9.98,"y":3.01},{"g":2,"x":11.53,"y":3.01},{"g":3,"x":9.98,"y":3.01},{"g":3,"x":10.145,"y":3.32},{"g":3,"x":10.31,"y":3.45},{"g":3,"x":10.475,"y":3.32},{"g":3,"x":10.64,"y":3.01},{"g":3,"x":10.805,"y":2.7},{"g":3,"x":10.97,"y":2.57},{"g":3,"x":11.135,"y":2.7},{"g":3,"x":11.3,"y":3.01}]},"mark":{"type":"line","color":"#222","strokeWidth":1.6,"interpolate":"monotone"},"encoding":{"detail":{"field":"g"},"order":{"value":null}}},
{"data":{"values":[{"x":10.31,"y":3.45}]},"mark":{"type":"point","filled":true,"color":"#f00010","opacity":1,"size":220,"shape":"circle"},"encoding":{}},
{"data":{"values":[{"x":9.65,"y":3.28,"t":"p"},{"x":11.48,"y":2.77,"t":"t"},{"x":10.65,"y":3.2,"t":"ϕ=90°"}]},"mark":{"type":"text","fontSize":34},"encoding":{"text":{"field":"t"}}}
]},
{"width":900,"height":524,"encoding":{"x":{"field":"x","type":"quantitative","scale":{"domain":[0,10.4]},"axis":null},"y":{"field":"y","type":"quantitative","scale":{"domain":[-0.417,4.043]},"axis":null}},
"layer":[
{"data":{"name":"f"},"mark":"area","encoding":{"y2":{"datum":0.23},"color":{"field":"l","type":"nominal"},"detail":{"field":"g"}}},
{"data":{"name":"box"},"mark":{"type":"rect","fill":"white"},"encoding":{"x2":{"field":"x2"},"y2":{"field":"y2"}}},
{"data":{"name":"f2"},"mark":"area","encoding":{"y2":{"field":"b"},"color":{"field":"l","type":"nominal"},"detail":{"field":"g"}}},
{"data":{"name":"bar"},"mark":{"type":"rect","fill":"black"},"encoding":{"x2":{"field":"x2"},"y2":{"field":"y2"}}},
{"data":{"values":[{"x":5.7,"y":2.03,"y2":1.3}]},"mark":{"type":"rule","color":"#111","strokeWidth":5},"encoding":{"y2":{"field":"y2"}}},
{"data":{"values":[{"x":5.7,"y":1.255}]},"mark":{"type":"point","filled":true,"color":"#111","opacity":1,"size":1849,"shape":"M0,1L.56,-1L-.56,-1Z"},"encoding":{}},
{"data":{"values":[{"x":0.09,"y":0.445,"t":"(f)"}]},"mark":{"type":"text","fontSize":50,"fontWeight":"bold"},"encoding":{"text":{"field":"t"}}}
]},
{"width":898,"height":524,"encoding":{"x":{"field":"x","type":"quantitative","scale":{"domain":[0,10.4]},"axis":null},"y":{"field":"y","type":"quantitative","scale":{"domain":[-0.417,4.043]},"axis":null}},
"layer":[
{"data":{"name":"c"},"mark":"area","encoding":{"y2":{"datum":0.23},"color":{"field":"l","type":"nominal"},"detail":{"field":"g"}}},
{"data":{"name":"c2"},"mark":"area","encoding":{"y2":{"field":"b"},"color":{"field":"l","type":"nominal"},"detail":{"field":"g"}}},
{"data":{"name":"box"},"mark":{"type":"rect","fill":"white"},"encoding":{"x2":{"field":"x2"},"y2":{"field":"y2"}}},
{"data":{"name":"bar"},"mark":{"type":"rect","fill":"black"},"encoding":{"x2":{"field":"x2"},"y2":{"field":"y2"}}},
{"data":{"values":[{"x":5.921,"y":4.043},{"x":7.835,"y":-0.417}]},"mark":{"type":"line","color":"#111","strokeWidth":5,"strokeDash":[31,31],"strokeDashOffset":11},"encoding":{}},
{"data":{"values":[{"x":3.32,"y":1.55,"y2":2.2},{"x":7.3,"y":2.62,"y2":1.9}]},"mark":{"type":"rule","color":"#111","strokeWidth":5},"encoding":{"y2":{"field":"y2"}}},
{"data":{"values":[{"x":7.3,"y":1.865}]},"mark":{"type":"point","filled":true,"color":"#111","opacity":1,"size":1849,"shape":"M0,1L.56,-1L-.56,-1Z"},"encoding":{}},
{"data":{"values":[{"x":3.32,"y":2.315}]},"mark":{"type":"point","filled":true,"color":"#111","opacity":1,"size":1849,"shape":"M0,-1L.56,1L-.56,1Z"},"encoding":{}},
{"data":{"values":[{"x":0.13,"y":0.44,"t":"(c)"}]},"mark":{"type":"text","fontSize":50,"fontWeight":"bold"},"encoding":{"text":{"field":"t"}}},
{"data":{"values":[{"x":9.55,"x2":12.12,"y":3.53,"y2":2.5}]},"mark":{"type":"rect","fill":"white","stroke":"#222","strokeWidth":2},"encoding":{"x2":{"field":"x2"},"y2":{"field":"y2"}}},
{"data":{"values":[{"g":1,"x":9.98,"y":3.42},{"g":1,"x":9.98,"y":2.57},{"g":2,"x":9.98,"y":3.01},{"g":2,"x":11.53,"y":3.01},{"g":3,"x":9.98,"y":3.01},{"g":3,"x":10.145,"y":3.32},{"g":3,"x":10.31,"y":3.45},{"g":3,"x":10.475,"y":3.32},{"g":3,"x":10.64,"y":3.01},{"g":3,"x":10.805,"y":2.7},{"g":3,"x":10.97,"y":2.57},{"g":3,"x":11.135,"y":2.7},{"g":3,"x":11.3,"y":3.01}]},"mark":{"type":"line","color":"#222","strokeWidth":1.6,"interpolate":"monotone"},"encoding":{"detail":{"field":"g"},"order":{"value":null}}},
{"data":{"values":[{"x":10.64,"y":3.01}]},"mark":{"type":"point","filled":true,"color":"#f00010","opacity":1,"size":220,"shape":"circle"},"encoding":{}},
{"data":{"values":[{"x":9.65,"y":3.28,"t":"p"},{"x":11.48,"y":2.77,"t":"t"},{"x":10.65,"y":3.2,"t":"ϕ=180°"}]},"mark":{"type":"text","fontSize":34},"encoding":{"text":{"field":"t"}}}
]},
{"width":900,"height":524,"encoding":{"x":{"field":"x","type":"quantitative","scale":{"domain":[0,10.4]},"axis":null},"y":{"field":"y","type":"quantitative","scale":{"domain":[-0.417,4.043]},"axis":null}},
"layer":[
{"data":{"name":"g"},"mark":"area","encoding":{"y2":{"datum":0.23},"color":{"field":"l","type":"nominal"},"detail":{"field":"g"}}},
{"data":{"name":"box"},"mark":{"type":"rect","fill":"white"},"encoding":{"x2":{"field":"x2"},"y2":{"field":"y2"}}},
{"data":{"name":"g2"},"mark":"area","encoding":{"y2":{"field":"b"},"color":{"field":"l","type":"nominal"},"detail":{"field":"g"}}},
{"data":{"name":"bar"},"mark":{"type":"rect","fill":"black"},"encoding":{"x2":{"field":"x2"},"y2":{"field":"y2"}}},
{"data":{"values":[{"x":0.79,"y":2.08,"y2":1.4}]},"mark":{"type":"rule","color":"#111","strokeWidth":5},"encoding":{"y2":{"field":"y2"}}},
{"data":{"values":[{"x":0.79,"y":1.335}]},"mark":{"type":"point","filled":true,"color":"#111","opacity":1,"size":1849,"shape":"M0,1L.56,-1L-.56,-1Z"},"encoding":{}},
{"data":{"values":[{"x":0.09,"y":0.44,"t":"(g)"}]},"mark":{"type":"text","fontSize":50,"fontWeight":"bold"},"encoding":{"text":{"field":"t"}}}
]},
{"width":898,"height":610,"resolve":{"axis":{"x":"independent"}},"encoding":{"x":{"field":"x","type":"quantitative","scale":{"domain":[0,10.4]},"axis":null},"y":{"field":"y","type":"quantitative","scale":{"domain":[-0.417,4.774]},"axis":{"values":[0,1,2,3,4],"domain":false,"grid":false,"title":null,"tickSize":15,"tickWidth":2,"tickColor":"#111","labelColor":"#111","labelFont":"Liberation Sans","labelFontSize":36,"labelPadding":10,"labelOffset":4}}},
"layer":[
{"data":{"name":"d"},"mark":"area","encoding":{"y2":{"datum":0.23},"color":{"field":"l","type":"nominal"},"detail":{"field":"g"}}},
{"data":{"name":"d2"},"mark":"area","encoding":{"y2":{"field":"b"},"color":{"field":"l","type":"nominal"},"detail":{"field":"g"}}},
{"data":{"name":"box"},"mark":{"type":"rect","fill":"white"},"encoding":{"x2":{"field":"x2"},"y2":{"field":"y2"}}},
{"data":{"name":"bar"},"mark":{"type":"rect","fill":"black"},"encoding":{"x":{"field":"x","type":"quantitative","scale":{"domain":[0,10.4]},"axis":{"orient":"bottom","values":[2,4,6,8,10],"domain":false,"grid":false,"title":null,"tickSize":16,"tickWidth":2,"tickColor":"#111","labelColor":"#111","labelFont":"Liberation Sans","labelFontSize":36,"labelPadding":24}},"x2":{"field":"x2"},"y2":{"field":"y2"}}},
{"data":{"values":[{"x":0,"y":4.07,"y2":-1.3}]},"mark":{"type":"rule","color":"#111","strokeWidth":2.5},"encoding":{"x":{"field":"x","type":"quantitative","scale":{"domain":[0,10.4]},"axis":{"orient":"bottom","values":[0,2,4,6,8,10],"labelExpr":"datum.value==0?'0':format(datum.value/8,'.2f')","offset":104,"grid":false,"title":null,"domainColor":"#111","domainWidth":2.5,"tickSize":16,"tickWidth":2,"tickColor":"#111","labelColor":"#111","labelFont":"Liberation Sans","labelFontSize":36,"labelPadding":18}},"y2":{"field":"y2"}}},
{"data":{"values":[{"x":7.835,"y":4.774},{"x":9.49,"y":0.919}]},"mark":{"type":"line","color":"#111","strokeWidth":5,"strokeDash":[31,31],"strokeDashOffset":2},"encoding":{}},
{"data":{"values":[{"x":5.39,"y":1.55,"y2":2.2},{"x":9.59,"y":2.52,"y2":1.8}]},"mark":{"type":"rule","color":"#111","strokeWidth":5},"encoding":{"y2":{"field":"y2"}}},
{"data":{"values":[{"x":9.59,"y":1.755}]},"mark":{"type":"point","filled":true,"color":"#111","opacity":1,"size":1849,"shape":"M0,1L.56,-1L-.56,-1Z"},"encoding":{}},
{"data":{"values":[{"x":5.39,"y":2.305}]},"mark":{"type":"point","filled":true,"color":"#111","opacity":1,"size":1849,"shape":"M0,-1L.56,1L-.56,1Z"},"encoding":{}},
{"data":{"values":[{"x":0.115,"y":0.5,"t":"(d)"}]},"mark":{"type":"text","fontSize":50,"fontWeight":"bold"},"encoding":{"text":{"field":"t"}}},
{"data":{"values":[{"x":-0.32,"y":4.22,"t":"y/δ"}]},"mark":{"type":"text","fontSize":40},"encoding":{"text":{"field":"t"}}},
{"data":{"values":[{"x":5.25,"y":-1.12,"t":"x/δ"},{"x":5.25,"y":-2.09,"t":"x/λ"}]},"mark":{"type":"text","fontSize":42,"align":"center"},"encoding":{"text":{"field":"t"}}},
{"data":{"values":[{"x":9.55,"x2":12.12,"y":4.26,"y2":3.23}]},"mark":{"type":"rect","fill":"white","stroke":"#222","strokeWidth":2},"encoding":{"x2":{"field":"x2"},"y2":{"field":"y2"}}},
{"data":{"values":[{"g":1,"x":9.98,"y":4.15},{"g":1,"x":9.98,"y":3.3},{"g":2,"x":9.98,"y":3.74},{"g":2,"x":11.53,"y":3.74},{"g":3,"x":9.98,"y":3.74},{"g":3,"x":10.145,"y":4.05},{"g":3,"x":10.31,"y":4.18},{"g":3,"x":10.475,"y":4.05},{"g":3,"x":10.64,"y":3.74},{"g":3,"x":10.805,"y":3.43},{"g":3,"x":10.97,"y":3.3},{"g":3,"x":11.135,"y":3.43},{"g":3,"x":11.3,"y":3.74}]},"mark":{"type":"line","color":"#222","strokeWidth":1.6,"interpolate":"monotone"},"encoding":{"detail":{"field":"g"},"order":{"value":null}}},
{"data":{"values":[{"x":10.97,"y":3.3}]},"mark":{"type":"point","filled":true,"color":"#f00010","opacity":1,"size":220,"shape":"circle"},"encoding":{}},
{"data":{"values":[{"x":9.65,"y":4.01,"t":"p"},{"x":11.48,"y":3.5,"t":"t"},{"x":10.65,"y":3.93,"t":"ϕ=270°"}]},"mark":{"type":"text","fontSize":34},"encoding":{"text":{"field":"t"}}}
]},
{"width":900,"height":610,"encoding":{"x":{"field":"x","type":"quantitative","scale":{"domain":[0,10.4]},"axis":null},"y":{"field":"y","type":"quantitative","scale":{"domain":[-0.417,4.774]},"axis":null}},
"layer":[
{"data":{"name":"h"},"mark":"area","encoding":{"y2":{"datum":0.23},"color":{"field":"l","type":"nominal"},"detail":{"field":"g"}}},
{"data":{"name":"h2"},"mark":"area","encoding":{"y2":{"field":"b"},"color":{"field":"l","type":"nominal"},"detail":{"field":"g"}}},
{"data":{"name":"bar"},"mark":{"type":"rect","fill":"black"},"encoding":{"x2":{"field":"x2"},"y2":{"field":"y2"}}},
{"data":{"values":[{"x":5.56,"y":0.97,"y2":1.6}]},"mark":{"type":"rule","color":"#111","strokeWidth":5},"encoding":{"y2":{"field":"y2"}}},
{"data":{"values":[{"x":5.56,"y":1.735}]},"mark":{"type":"point","filled":true,"color":"#111","opacity":1,"size":1849,"shape":"M0,-1L.56,1L-.56,1Z"},"encoding":{}},
{"data":{"values":[{"x":0.09,"y":0.57,"t":"(h)"}]},"mark":{"type":"text","fontSize":50,"fontWeight":"bold"},"encoding":{"text":{"field":"t"}}},
{"data":{"name":"cbar"},"mark":"rect","encoding":{"y2":{"field":"y2"},"x2":{"field":"x2"},"color":{"field":"l","type":"nominal"}}},
{"data":{"values":[{"x":3.336,"x2":10.26,"y":-1.09,"y2":-1.417}]},"mark":{"type":"rect","fillOpacity":0,"stroke":"#111","strokeWidth":2.5},"encoding":{"x2":{"field":"x2"},"y2":{"field":"y2"}}},
{"data":{"values":[{"x":3.46,"y":-1.09,"y2":-1.417},{"x":4.835,"y":-1.09,"y2":-1.417},{"x":6.8,"y":-1.09,"y2":-1.417},{"x":8.78,"y":-1.09,"y2":-1.417},{"x":10.13,"y":-1.09,"y2":-1.417}]},"mark":{"type":"rule","color":"#111","strokeWidth":1.6},"encoding":{"y2":{"field":"y2"}}},
{"data":{"values":[{"x":3.46,"y":-1.87,"t":"-0.2"},{"x":4.69,"y":-1.87,"t":"-0.1"},{"x":6.84,"y":-1.87,"t":"0"},{"x":8.64,"y":-1.87,"t":"0.1"},{"x":10.18,"y":-1.87,"t":"0.2"}]},"mark":{"type":"text","fontSize":36,"align":"center"},"encoding":{"text":{"field":"t"}}},
{"data":{"values":[{"x":0.18,"y":-1.417,"t":"(v"},{"x":1.0,"y":-1.417,"t":")"},{"x":1.35,"y":-1.417,"t":"/U (%)"}]},"mark":{"type":"text","fontSize":40},"encoding":{"text":{"field":"t"}}},
{"data":{"values":[{"x":0.54,"y":-1.465,"t":"TS"},{"x":1.16,"y":-1.465,"t":"p"}]},"mark":{"type":"text","fontSize":28},"encoding":{"text":{"field":"t"}}}
]}
]}
